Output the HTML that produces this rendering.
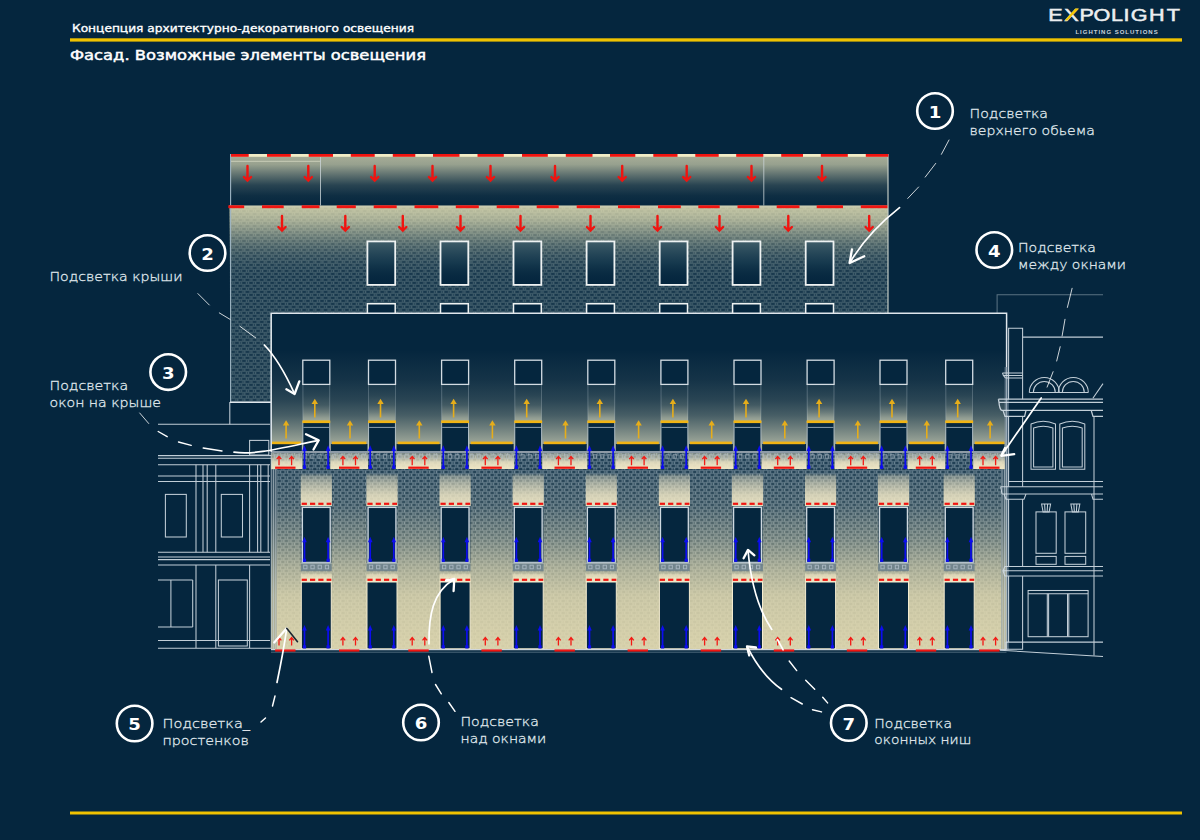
<!DOCTYPE html>
<html lang="ru"><head><meta charset="utf-8"><title>Фасад. Возможные элементы освещения</title>
<style>html,body{margin:0;padding:0;background:#05263e;}svg{display:block}text{font-family:"Liberation Sans","DejaVu Sans",sans-serif}.dj{font-family:"DejaVu Sans","Liberation Sans",sans-serif}.djl{font-family:"DejaVu Sans Light","DejaVu Sans","Liberation Sans",sans-serif;font-weight:200}</style></head><body>
<svg width="1200" height="840" viewBox="0 0 1200 840">
<defs>
<pattern id="brick" patternUnits="userSpaceOnUse" x="231" y="206.5" width="7.1" height="6"><rect x="0" y="0" width="7.1" height="6" fill="#7d95a3"/><rect x="0.3" y="0.55" width="3.6" height="1.9" fill="#05263e"/><rect x="4.95" y="0.7" width="1.15" height="1.6" fill="#05263e"/><rect x="3.85" y="3.55" width="3.25" height="1.9" fill="#05263e"/><rect x="0" y="3.55" width="0.35" height="1.9" fill="#05263e"/><rect x="1.4" y="3.7" width="1.15" height="1.6" fill="#05263e"/></pattern>
<pattern id="brickU" patternUnits="userSpaceOnUse" x="231" y="206.5" width="7.1" height="6"><rect x="0" y="0" width="7.1" height="6" fill="#55707b"/><rect x="0.3" y="0.6" width="3.9" height="1.7" fill="#05263e"/><rect x="5.2" y="0.9" width="1.0" height="1.1" fill="#05263e"/><rect x="3.85" y="3.6" width="3.25" height="1.7" fill="#05263e"/><rect x="0" y="3.6" width="0.65" height="1.7" fill="#05263e"/><rect x="1.65" y="3.9" width="1.0" height="1.1" fill="#05263e"/></pattern>
<linearGradient id="gPar" gradientUnits="userSpaceOnUse" x1="0" y1="154" x2="0" y2="206"><stop offset="0" stop-color="#f1ecc0" stop-opacity="0.7"/><stop offset="0.2" stop-color="#f1ecc0" stop-opacity="0.62"/><stop offset="0.4" stop-color="#f1ecc0" stop-opacity="0.38"/><stop offset="0.6" stop-color="#f1ecc0" stop-opacity="0.15"/><stop offset="0.8" stop-color="#f1ecc0" stop-opacity="0.04"/><stop offset="1" stop-color="#f1ecc0" stop-opacity="0"/></linearGradient>
<linearGradient id="gUp" gradientUnits="userSpaceOnUse" x1="0" y1="206" x2="0" y2="313"><stop offset="0" stop-color="#eee8b8" stop-opacity="0.78"/><stop offset="0.02" stop-color="#eee8b8" stop-opacity="0.76"/><stop offset="0.13" stop-color="#eee8b8" stop-opacity="0.64"/><stop offset="0.205" stop-color="#eee8b8" stop-opacity="0.5"/><stop offset="0.28" stop-color="#eee8b8" stop-opacity="0.36"/><stop offset="0.365" stop-color="#eee8b8" stop-opacity="0.22"/><stop offset="0.46" stop-color="#eee8b8" stop-opacity="0.1"/><stop offset="0.55" stop-color="#eee8b8" stop-opacity="0.035"/><stop offset="0.65" stop-color="#eee8b8" stop-opacity="0"/></linearGradient>
<linearGradient id="gWin" gradientUnits="userSpaceOnUse" x1="0" y1="241" x2="0" y2="285"><stop offset="0" stop-color="#48656f" stop-opacity="0.9"/><stop offset="0.5" stop-color="#214558" stop-opacity="0.6"/><stop offset="1" stop-color="#05263e" stop-opacity="0"/></linearGradient>
<linearGradient id="gRoof" gradientUnits="userSpaceOnUse" x1="0" y1="313" x2="0" y2="452"><stop offset="0" stop-color="#e8e6c6" stop-opacity="0"/><stop offset="0.266" stop-color="#e8e6c6" stop-opacity="0"/><stop offset="0.482" stop-color="#e8e6c6" stop-opacity="0.07"/><stop offset="0.626" stop-color="#e8e6c6" stop-opacity="0.16"/><stop offset="0.734" stop-color="#e8e6c6" stop-opacity="0.287"/><stop offset="0.827" stop-color="#e8e6c6" stop-opacity="0.46"/><stop offset="0.921" stop-color="#e8e6c6" stop-opacity="0.64"/><stop offset="1" stop-color="#e8e6c6" stop-opacity="0.66"/></linearGradient>
<linearGradient id="gDorm" gradientUnits="userSpaceOnUse" x1="0" y1="384" x2="0" y2="421"><stop offset="0" stop-color="#e8e6c6" stop-opacity="0.09"/><stop offset="0.3" stop-color="#e8e6c6" stop-opacity="0.16"/><stop offset="0.57" stop-color="#e8e6c6" stop-opacity="0.27"/><stop offset="0.76" stop-color="#e8e6c6" stop-opacity="0.44"/><stop offset="0.92" stop-color="#e8e6c6" stop-opacity="0.62"/><stop offset="1" stop-color="#e8e6c6" stop-opacity="0.68"/></linearGradient>
<linearGradient id="gWall" gradientUnits="userSpaceOnUse" x1="0" y1="469" x2="0" y2="649"><stop offset="0" stop-color="#e8deb2" stop-opacity="0.02"/><stop offset="0.2" stop-color="#e8deb2" stop-opacity="0.11"/><stop offset="0.4" stop-color="#e8deb2" stop-opacity="0.38"/><stop offset="0.55" stop-color="#e8deb2" stop-opacity="0.64"/><stop offset="0.7" stop-color="#e8deb2" stop-opacity="0.82"/><stop offset="1" stop-color="#e8deb2" stop-opacity="0.9"/></linearGradient>
<linearGradient id="gLit2" gradientUnits="userSpaceOnUse" x1="0" y1="473" x2="0" y2="506"><stop offset="0" stop-color="#f3e9c6" stop-opacity="0"/><stop offset="0.1" stop-color="#f3e9c6" stop-opacity="0.35"/><stop offset="0.3" stop-color="#f3e9c6" stop-opacity="0.55"/><stop offset="0.65" stop-color="#f3e9c6" stop-opacity="0.8"/><stop offset="1" stop-color="#f3e9c6" stop-opacity="0.92"/></linearGradient>
<linearGradient id="gLit1" gradientUnits="userSpaceOnUse" x1="0" y1="573.5" x2="0" y2="582"><stop offset="0" stop-color="#f3e9c6" stop-opacity="0.45"/><stop offset="0.5" stop-color="#f3e9c6" stop-opacity="0.8"/><stop offset="1" stop-color="#f3e9c6" stop-opacity="0.92"/></linearGradient>
<linearGradient id="gStrip" gradientUnits="userSpaceOnUse" x1="0" y1="453" x2="0" y2="469"><stop offset="0" stop-color="#f3e9c6" stop-opacity="0.4"/><stop offset="0.3" stop-color="#f3e9c6" stop-opacity="0.6"/><stop offset="0.6" stop-color="#f3e9c6" stop-opacity="0.88"/><stop offset="1" stop-color="#f3e9c6" stop-opacity="0.97"/></linearGradient>
</defs>
<rect x="0.00" y="0.00" width="1200.00" height="840.00" fill="#05263e" />
<rect x="70.00" y="38.30" width="1112.00" height="3.30" fill="#f0c200" />
<rect x="70.00" y="811.50" width="1112.00" height="3.00" fill="#f0c200" />
<text x="72" y="32" font-size="10.8" class="dj" stroke="#ffffff" stroke-width="0.35" fill="#ffffff" textLength="342" lengthAdjust="spacingAndGlyphs">Концепция архитектурно-декоративного освещения</text>
<text x="70" y="60" font-size="13.2" class="dj" stroke="#ffffff" stroke-width="0.45" fill="#ffffff" textLength="356" lengthAdjust="spacingAndGlyphs">Фасад. Возможные элементы освещения</text>
<g id="logo">
<text transform="scale(1.27 1)" x="825.46 838.03 849.95 861.01 874.80 884.67 890.32 904.82 918.78" y="20.6" font-size="17" fill="#eceef0" stroke="#eceef0" stroke-width="0.5">EXPOLIGHT</text>
<path d="M1075.2 8.4 L1078.9 8.4 L1067.3 20.6 L1064.5 20.6 Z" fill="#f2c500"/>
<text x="1075.4" y="33.8" font-size="6" font-weight="700" fill="#c9d3dc" textLength="82.3" lengthAdjust="spacing">LIGHTING SOLUTIONS</text>
</g>
<g id="left-building" stroke="#d3dde5" stroke-width="1.05" fill="none" opacity="0.92">
<path d="M229.8 402 L229.8 424.2"/>
<path d="M158 424.2 L270 424.2"/>
<rect x="249.6" y="440.4" width="19.2" height="14.6"/>
<path d="M158 455.6 L276 455.6"/>
<path d="M158 458.2 L276 458.2"/>
<path d="M158 464.8 L270 464.8"/>
<path d="M158 476 L270 476"/>
<path d="M158 481.5 L270 481.5"/>
<path d="M196 464.8 L196 552.2"/>
<path d="M203 464.8 L203 552.2"/>
<path d="M207.2 464.8 L207.2 552.2"/>
<path d="M215.8 464.8 L215.8 552.2"/>
<path d="M249.6 464.8 L249.6 552.2"/>
<path d="M257.6 464.8 L257.6 552.2"/>
<path d="M260.8 464.8 L260.8 552.2"/>
<path d="M268.2 464.8 L268.2 552.2"/>
<rect x="165.4" y="494.4" width="20.9" height="42.6"/>
<rect x="221.3" y="494.4" width="21.2" height="42.6"/>
<path d="M158 552.2 L270 552.2"/>
<path d="M158 557 L270 557"/>
<path d="M158 559.6 L270 559.6"/>
<path d="M158 565 L270 565"/>
<path d="M196 565 L196 648"/>
<path d="M215.8 565 L215.8 648"/>
<path d="M249.6 565 L249.6 648"/>
<path d="M158 580 L192.7 580"/>
<path d="M192.7 580 L192.7 627"/>
<path d="M158 627 L192.7 627"/>
<path d="M170.9 580 L170.9 627"/>
<rect x="218.4" y="580" width="28.9" height="66.0"/>
<path d="M158 640.5 L270 640.5"/>
<path d="M158 648.3 L271 648.3"/>
</g>
<g id="upper-building">
<rect x="231.00" y="154.00" width="657.00" height="52.00" fill="url(#gPar)" />
<path d="M229.5 206 H888 V313 H271 V402 H230.5 Z" fill="url(#brickU)" opacity="0.8"/>
<path d="M229.5 206 H888 V313 H271 V402 H230.5 Z" fill="url(#gUp)"/>
<rect x="231.00" y="154.00" width="657.00" height="2.80" fill="#f1ecc6" />
<rect x="229.00" y="205.40" width="659.00" height="2.20" fill="#c9cbb0" opacity="0.9" />
<line x1="230.60" y1="154.00" x2="230.60" y2="402.00" stroke="#9fb6c4" stroke-width="1.1" />
<line x1="888.00" y1="154.00" x2="888.00" y2="313.00" stroke="#c3ccc4" stroke-width="1.2" />
<line x1="231.00" y1="161.30" x2="320.50" y2="161.30" stroke="#d5d8c2" stroke-width="1" opacity="0.8" />
<line x1="320.50" y1="155.00" x2="320.50" y2="205.50" stroke="#c9d3d6" stroke-width="1" opacity="0.8" />
<line x1="763.80" y1="155.00" x2="763.80" y2="205.50" stroke="#c9d3d6" stroke-width="1" opacity="0.8" />
<line x1="230.00" y1="402.20" x2="271.00" y2="402.20" stroke="#dfe6ec" stroke-width="1.6" />
<rect x="367.40" y="241.40" width="27.80" height="43.50" fill="#05263e" />
<rect x="367.40" y="241.40" width="27.80" height="43.50" fill="url(#gWin)" stroke="#eef2f2" stroke-width="1.8" />
<path d="M367.4 313 V303.8 H395.2 V313" fill="#05263e" stroke="#eef2f2" stroke-width="1.5"/>
<rect x="440.50" y="241.40" width="27.80" height="43.50" fill="#05263e" />
<rect x="440.50" y="241.40" width="27.80" height="43.50" fill="url(#gWin)" stroke="#eef2f2" stroke-width="1.8" />
<path d="M440.5 313 V303.8 H468.3 V313" fill="#05263e" stroke="#eef2f2" stroke-width="1.5"/>
<rect x="513.50" y="241.40" width="27.80" height="43.50" fill="#05263e" />
<rect x="513.50" y="241.40" width="27.80" height="43.50" fill="url(#gWin)" stroke="#eef2f2" stroke-width="1.8" />
<path d="M513.5 313 V303.8 H541.3 V313" fill="#05263e" stroke="#eef2f2" stroke-width="1.5"/>
<rect x="586.60" y="241.40" width="27.80" height="43.50" fill="#05263e" />
<rect x="586.60" y="241.40" width="27.80" height="43.50" fill="url(#gWin)" stroke="#eef2f2" stroke-width="1.8" />
<path d="M586.6 313 V303.8 H614.4 V313" fill="#05263e" stroke="#eef2f2" stroke-width="1.5"/>
<rect x="659.70" y="241.40" width="27.80" height="43.50" fill="#05263e" />
<rect x="659.70" y="241.40" width="27.80" height="43.50" fill="url(#gWin)" stroke="#eef2f2" stroke-width="1.8" />
<path d="M659.7 313 V303.8 H687.5 V313" fill="#05263e" stroke="#eef2f2" stroke-width="1.5"/>
<rect x="732.60" y="241.40" width="27.80" height="43.50" fill="#05263e" />
<rect x="732.60" y="241.40" width="27.80" height="43.50" fill="url(#gWin)" stroke="#eef2f2" stroke-width="1.8" />
<path d="M732.6 313 V303.8 H760.4 V313" fill="#05263e" stroke="#eef2f2" stroke-width="1.5"/>
<rect x="805.70" y="241.40" width="27.80" height="43.50" fill="#05263e" />
<rect x="805.70" y="241.40" width="27.80" height="43.50" fill="url(#gWin)" stroke="#eef2f2" stroke-width="1.8" />
<path d="M805.7 313 V303.8 H833.5 V313" fill="#05263e" stroke="#eef2f2" stroke-width="1.5"/>
<rect x="231.00" y="154.00" width="17.70" height="2.80" fill="#f01410" />
<rect x="267.00" y="154.00" width="23.80" height="2.80" fill="#f01410" />
<rect x="308.70" y="154.00" width="24.30" height="2.80" fill="#f01410" />
<rect x="350.80" y="154.00" width="23.90" height="2.80" fill="#f01410" />
<rect x="392.80" y="154.00" width="22.50" height="2.80" fill="#f01410" />
<rect x="433.00" y="154.00" width="26.50" height="2.80" fill="#f01410" />
<rect x="477.50" y="154.00" width="26.30" height="2.80" fill="#f01410" />
<rect x="522.00" y="154.00" width="25.80" height="2.80" fill="#f01410" />
<rect x="565.80" y="154.00" width="26.70" height="2.80" fill="#f01410" />
<rect x="610.00" y="154.00" width="25.30" height="2.80" fill="#f01410" />
<rect x="653.30" y="154.00" width="24.20" height="2.80" fill="#f01410" />
<rect x="695.30" y="154.00" width="23.40" height="2.80" fill="#f01410" />
<rect x="736.20" y="154.00" width="27.10" height="2.80" fill="#f01410" />
<rect x="781.20" y="154.00" width="21.80" height="2.80" fill="#f01410" />
<rect x="820.80" y="154.00" width="27.00" height="2.80" fill="#f01410" />
<rect x="865.80" y="154.00" width="22.50" height="2.80" fill="#f01410" />
<rect x="228.30" y="205.30" width="15.90" height="2.90" fill="#f01410" />
<rect x="262.00" y="205.30" width="21.70" height="2.90" fill="#f01410" />
<rect x="301.70" y="205.30" width="17.80" height="2.90" fill="#f01410" />
<rect x="336.70" y="205.30" width="19.10" height="2.90" fill="#f01410" />
<rect x="373.70" y="205.30" width="23.00" height="2.90" fill="#f01410" />
<rect x="414.50" y="205.30" width="23.80" height="2.90" fill="#f01410" />
<rect x="455.80" y="205.30" width="23.00" height="2.90" fill="#f01410" />
<rect x="496.70" y="205.30" width="22.50" height="2.90" fill="#f01410" />
<rect x="536.70" y="205.30" width="22.00" height="2.90" fill="#f01410" />
<rect x="576.70" y="205.30" width="23.30" height="2.90" fill="#f01410" />
<rect x="618.00" y="205.30" width="22.00" height="2.90" fill="#f01410" />
<rect x="658.00" y="205.30" width="22.80" height="2.90" fill="#f01410" />
<rect x="698.30" y="205.30" width="21.40" height="2.90" fill="#f01410" />
<rect x="737.50" y="205.30" width="21.70" height="2.90" fill="#f01410" />
<rect x="776.70" y="205.30" width="22.80" height="2.90" fill="#f01410" />
<rect x="816.70" y="205.30" width="26.30" height="2.90" fill="#f01410" />
<rect x="860.80" y="205.30" width="26.70" height="2.90" fill="#f01410" />
<path d="M247.5 166.0 V180.2 M243.9 177.0 L247.5 180.6 L251.1 177.0" stroke="#f01410" stroke-width="2.4" fill="none" stroke-linecap="round" stroke-linejoin="miter"/>
<path d="M308.3 166.0 V180.2 M304.7 177.0 L308.3 180.6 L311.9 177.0" stroke="#f01410" stroke-width="2.4" fill="none" stroke-linecap="round" stroke-linejoin="miter"/>
<path d="M374.7 166.0 V180.2 M371.1 177.0 L374.7 180.6 L378.3 177.0" stroke="#f01410" stroke-width="2.4" fill="none" stroke-linecap="round" stroke-linejoin="miter"/>
<path d="M432.5 166.0 V180.2 M428.9 177.0 L432.5 180.6 L436.1 177.0" stroke="#f01410" stroke-width="2.4" fill="none" stroke-linecap="round" stroke-linejoin="miter"/>
<path d="M490.5 166.0 V180.2 M486.9 177.0 L490.5 180.6 L494.1 177.0" stroke="#f01410" stroke-width="2.4" fill="none" stroke-linecap="round" stroke-linejoin="miter"/>
<path d="M555.0 166.0 V180.2 M551.4 177.0 L555.0 180.6 L558.6 177.0" stroke="#f01410" stroke-width="2.4" fill="none" stroke-linecap="round" stroke-linejoin="miter"/>
<path d="M622.2 166.0 V180.2 M618.6 177.0 L622.2 180.6 L625.8 177.0" stroke="#f01410" stroke-width="2.4" fill="none" stroke-linecap="round" stroke-linejoin="miter"/>
<path d="M686.7 166.0 V180.2 M683.1 177.0 L686.7 180.6 L690.3 177.0" stroke="#f01410" stroke-width="2.4" fill="none" stroke-linecap="round" stroke-linejoin="miter"/>
<path d="M751.5 166.0 V180.2 M747.9 177.0 L751.5 180.6 L755.1 177.0" stroke="#f01410" stroke-width="2.4" fill="none" stroke-linecap="round" stroke-linejoin="miter"/>
<path d="M822.0 166.0 V180.2 M818.4 177.0 L822.0 180.6 L825.6 177.0" stroke="#f01410" stroke-width="2.4" fill="none" stroke-linecap="round" stroke-linejoin="miter"/>
<path d="M282.0 216.0 V230.2 M278.4 227.0 L282.0 230.6 L285.6 227.0" stroke="#f01410" stroke-width="2.4" fill="none" stroke-linecap="round" stroke-linejoin="miter"/>
<path d="M345.3 216.0 V230.2 M341.7 227.0 L345.3 230.6 L348.9 227.0" stroke="#f01410" stroke-width="2.4" fill="none" stroke-linecap="round" stroke-linejoin="miter"/>
<path d="M402.8 216.0 V230.2 M399.2 227.0 L402.8 230.6 L406.4 227.0" stroke="#f01410" stroke-width="2.4" fill="none" stroke-linecap="round" stroke-linejoin="miter"/>
<path d="M460.5 216.0 V230.2 M456.9 227.0 L460.5 230.6 L464.1 227.0" stroke="#f01410" stroke-width="2.4" fill="none" stroke-linecap="round" stroke-linejoin="miter"/>
<path d="M520.5 216.0 V230.2 M516.9 227.0 L520.5 230.6 L524.1 227.0" stroke="#f01410" stroke-width="2.4" fill="none" stroke-linecap="round" stroke-linejoin="miter"/>
<path d="M590.5 216.0 V230.2 M586.9 227.0 L590.5 230.6 L594.1 227.0" stroke="#f01410" stroke-width="2.4" fill="none" stroke-linecap="round" stroke-linejoin="miter"/>
<path d="M657.5 216.0 V230.2 M653.9 227.0 L657.5 230.6 L661.1 227.0" stroke="#f01410" stroke-width="2.4" fill="none" stroke-linecap="round" stroke-linejoin="miter"/>
<path d="M719.5 216.0 V230.2 M715.9 227.0 L719.5 230.6 L723.1 227.0" stroke="#f01410" stroke-width="2.4" fill="none" stroke-linecap="round" stroke-linejoin="miter"/>
<path d="M788.3 216.0 V230.2 M784.7 227.0 L788.3 230.6 L791.9 227.0" stroke="#f01410" stroke-width="2.4" fill="none" stroke-linecap="round" stroke-linejoin="miter"/>
<path d="M869.2 216.0 V230.2 M865.6 227.0 L869.2 230.6 L872.8 227.0" stroke="#f01410" stroke-width="2.4" fill="none" stroke-linecap="round" stroke-linejoin="miter"/>
</g>
<g id="lower-building">
<rect x="271.00" y="313.00" width="735.50" height="139.00" fill="#05263e" />
<rect x="271.50" y="313.00" width="734.50" height="139.00" fill="url(#gRoof)" />
<rect x="302.70" y="384.50" width="27.20" height="36.50" fill="#05263e" />
<rect x="302.70" y="384.50" width="27.20" height="36.50" fill="url(#gDorm)" />
<line x1="302.90" y1="384.50" x2="302.90" y2="421.00" stroke="#b9c6cf" stroke-width="0.8" opacity="0.4" />
<line x1="329.70" y1="384.50" x2="329.70" y2="421.00" stroke="#b9c6cf" stroke-width="0.8" opacity="0.4" />
<line x1="303.00" y1="421.00" x2="303.00" y2="452.00" stroke="#b9c6cf" stroke-width="1.2" opacity="0.85" />
<line x1="329.60" y1="421.00" x2="329.60" y2="452.00" stroke="#b9c6cf" stroke-width="1.2" opacity="0.85" />
<rect x="302.80" y="360.20" width="27.00" height="24.20" fill="#05263e" stroke="#d3dce3" stroke-width="1.3" />
<rect x="303.40" y="423.00" width="25.80" height="29.00" fill="#05263e" />
<line x1="303.40" y1="427.40" x2="329.20" y2="427.40" stroke="#8fa2b0" stroke-width="1" />
<rect x="302.40" y="420.40" width="27.80" height="2.70" fill="#f0b414" />
<rect x="368.40" y="384.50" width="27.20" height="36.50" fill="#05263e" />
<rect x="368.40" y="384.50" width="27.20" height="36.50" fill="url(#gDorm)" />
<line x1="368.60" y1="384.50" x2="368.60" y2="421.00" stroke="#b9c6cf" stroke-width="0.8" opacity="0.4" />
<line x1="395.40" y1="384.50" x2="395.40" y2="421.00" stroke="#b9c6cf" stroke-width="0.8" opacity="0.4" />
<line x1="368.70" y1="421.00" x2="368.70" y2="452.00" stroke="#b9c6cf" stroke-width="1.2" opacity="0.85" />
<line x1="395.30" y1="421.00" x2="395.30" y2="452.00" stroke="#b9c6cf" stroke-width="1.2" opacity="0.85" />
<rect x="368.50" y="360.20" width="27.00" height="24.20" fill="#05263e" stroke="#d3dce3" stroke-width="1.3" />
<rect x="369.10" y="423.00" width="25.80" height="29.00" fill="#05263e" />
<line x1="369.10" y1="427.40" x2="394.90" y2="427.40" stroke="#8fa2b0" stroke-width="1" />
<rect x="368.10" y="420.40" width="27.80" height="2.70" fill="#f0b414" />
<rect x="441.50" y="384.50" width="27.20" height="36.50" fill="#05263e" />
<rect x="441.50" y="384.50" width="27.20" height="36.50" fill="url(#gDorm)" />
<line x1="441.70" y1="384.50" x2="441.70" y2="421.00" stroke="#b9c6cf" stroke-width="0.8" opacity="0.4" />
<line x1="468.50" y1="384.50" x2="468.50" y2="421.00" stroke="#b9c6cf" stroke-width="0.8" opacity="0.4" />
<line x1="441.80" y1="421.00" x2="441.80" y2="452.00" stroke="#b9c6cf" stroke-width="1.2" opacity="0.85" />
<line x1="468.40" y1="421.00" x2="468.40" y2="452.00" stroke="#b9c6cf" stroke-width="1.2" opacity="0.85" />
<rect x="441.60" y="360.20" width="27.00" height="24.20" fill="#05263e" stroke="#d3dce3" stroke-width="1.3" />
<rect x="442.20" y="423.00" width="25.80" height="29.00" fill="#05263e" />
<line x1="442.20" y1="427.40" x2="468.00" y2="427.40" stroke="#8fa2b0" stroke-width="1" />
<rect x="441.20" y="420.40" width="27.80" height="2.70" fill="#f0b414" />
<rect x="514.60" y="384.50" width="27.20" height="36.50" fill="#05263e" />
<rect x="514.60" y="384.50" width="27.20" height="36.50" fill="url(#gDorm)" />
<line x1="514.80" y1="384.50" x2="514.80" y2="421.00" stroke="#b9c6cf" stroke-width="0.8" opacity="0.4" />
<line x1="541.60" y1="384.50" x2="541.60" y2="421.00" stroke="#b9c6cf" stroke-width="0.8" opacity="0.4" />
<line x1="514.90" y1="421.00" x2="514.90" y2="452.00" stroke="#b9c6cf" stroke-width="1.2" opacity="0.85" />
<line x1="541.50" y1="421.00" x2="541.50" y2="452.00" stroke="#b9c6cf" stroke-width="1.2" opacity="0.85" />
<rect x="514.70" y="360.20" width="27.00" height="24.20" fill="#05263e" stroke="#d3dce3" stroke-width="1.3" />
<rect x="515.30" y="423.00" width="25.80" height="29.00" fill="#05263e" />
<line x1="515.30" y1="427.40" x2="541.10" y2="427.40" stroke="#8fa2b0" stroke-width="1" />
<rect x="514.30" y="420.40" width="27.80" height="2.70" fill="#f0b414" />
<rect x="587.70" y="384.50" width="27.20" height="36.50" fill="#05263e" />
<rect x="587.70" y="384.50" width="27.20" height="36.50" fill="url(#gDorm)" />
<line x1="587.90" y1="384.50" x2="587.90" y2="421.00" stroke="#b9c6cf" stroke-width="0.8" opacity="0.4" />
<line x1="614.70" y1="384.50" x2="614.70" y2="421.00" stroke="#b9c6cf" stroke-width="0.8" opacity="0.4" />
<line x1="588.00" y1="421.00" x2="588.00" y2="452.00" stroke="#b9c6cf" stroke-width="1.2" opacity="0.85" />
<line x1="614.60" y1="421.00" x2="614.60" y2="452.00" stroke="#b9c6cf" stroke-width="1.2" opacity="0.85" />
<rect x="587.80" y="360.20" width="27.00" height="24.20" fill="#05263e" stroke="#d3dce3" stroke-width="1.3" />
<rect x="588.40" y="423.00" width="25.80" height="29.00" fill="#05263e" />
<line x1="588.40" y1="427.40" x2="614.20" y2="427.40" stroke="#8fa2b0" stroke-width="1" />
<rect x="587.40" y="420.40" width="27.80" height="2.70" fill="#f0b414" />
<rect x="660.80" y="384.50" width="27.20" height="36.50" fill="#05263e" />
<rect x="660.80" y="384.50" width="27.20" height="36.50" fill="url(#gDorm)" />
<line x1="661.00" y1="384.50" x2="661.00" y2="421.00" stroke="#b9c6cf" stroke-width="0.8" opacity="0.4" />
<line x1="687.80" y1="384.50" x2="687.80" y2="421.00" stroke="#b9c6cf" stroke-width="0.8" opacity="0.4" />
<line x1="661.10" y1="421.00" x2="661.10" y2="452.00" stroke="#b9c6cf" stroke-width="1.2" opacity="0.85" />
<line x1="687.70" y1="421.00" x2="687.70" y2="452.00" stroke="#b9c6cf" stroke-width="1.2" opacity="0.85" />
<rect x="660.90" y="360.20" width="27.00" height="24.20" fill="#05263e" stroke="#d3dce3" stroke-width="1.3" />
<rect x="661.50" y="423.00" width="25.80" height="29.00" fill="#05263e" />
<line x1="661.50" y1="427.40" x2="687.30" y2="427.40" stroke="#8fa2b0" stroke-width="1" />
<rect x="660.50" y="420.40" width="27.80" height="2.70" fill="#f0b414" />
<rect x="733.90" y="384.50" width="27.20" height="36.50" fill="#05263e" />
<rect x="733.90" y="384.50" width="27.20" height="36.50" fill="url(#gDorm)" />
<line x1="734.10" y1="384.50" x2="734.10" y2="421.00" stroke="#b9c6cf" stroke-width="0.8" opacity="0.4" />
<line x1="760.90" y1="384.50" x2="760.90" y2="421.00" stroke="#b9c6cf" stroke-width="0.8" opacity="0.4" />
<line x1="734.20" y1="421.00" x2="734.20" y2="452.00" stroke="#b9c6cf" stroke-width="1.2" opacity="0.85" />
<line x1="760.80" y1="421.00" x2="760.80" y2="452.00" stroke="#b9c6cf" stroke-width="1.2" opacity="0.85" />
<rect x="734.00" y="360.20" width="27.00" height="24.20" fill="#05263e" stroke="#d3dce3" stroke-width="1.3" />
<rect x="734.60" y="423.00" width="25.80" height="29.00" fill="#05263e" />
<line x1="734.60" y1="427.40" x2="760.40" y2="427.40" stroke="#8fa2b0" stroke-width="1" />
<rect x="733.60" y="420.40" width="27.80" height="2.70" fill="#f0b414" />
<rect x="807.00" y="384.50" width="27.20" height="36.50" fill="#05263e" />
<rect x="807.00" y="384.50" width="27.20" height="36.50" fill="url(#gDorm)" />
<line x1="807.20" y1="384.50" x2="807.20" y2="421.00" stroke="#b9c6cf" stroke-width="0.8" opacity="0.4" />
<line x1="834.00" y1="384.50" x2="834.00" y2="421.00" stroke="#b9c6cf" stroke-width="0.8" opacity="0.4" />
<line x1="807.30" y1="421.00" x2="807.30" y2="452.00" stroke="#b9c6cf" stroke-width="1.2" opacity="0.85" />
<line x1="833.90" y1="421.00" x2="833.90" y2="452.00" stroke="#b9c6cf" stroke-width="1.2" opacity="0.85" />
<rect x="807.10" y="360.20" width="27.00" height="24.20" fill="#05263e" stroke="#d3dce3" stroke-width="1.3" />
<rect x="807.70" y="423.00" width="25.80" height="29.00" fill="#05263e" />
<line x1="807.70" y1="427.40" x2="833.50" y2="427.40" stroke="#8fa2b0" stroke-width="1" />
<rect x="806.70" y="420.40" width="27.80" height="2.70" fill="#f0b414" />
<rect x="879.90" y="384.50" width="27.20" height="36.50" fill="#05263e" />
<rect x="879.90" y="384.50" width="27.20" height="36.50" fill="url(#gDorm)" />
<line x1="880.10" y1="384.50" x2="880.10" y2="421.00" stroke="#b9c6cf" stroke-width="0.8" opacity="0.4" />
<line x1="906.90" y1="384.50" x2="906.90" y2="421.00" stroke="#b9c6cf" stroke-width="0.8" opacity="0.4" />
<line x1="880.20" y1="421.00" x2="880.20" y2="452.00" stroke="#b9c6cf" stroke-width="1.2" opacity="0.85" />
<line x1="906.80" y1="421.00" x2="906.80" y2="452.00" stroke="#b9c6cf" stroke-width="1.2" opacity="0.85" />
<rect x="880.00" y="360.20" width="27.00" height="24.20" fill="#05263e" stroke="#d3dce3" stroke-width="1.3" />
<rect x="880.60" y="423.00" width="25.80" height="29.00" fill="#05263e" />
<line x1="880.60" y1="427.40" x2="906.40" y2="427.40" stroke="#8fa2b0" stroke-width="1" />
<rect x="879.60" y="420.40" width="27.80" height="2.70" fill="#f0b414" />
<rect x="945.60" y="384.50" width="27.20" height="36.50" fill="#05263e" />
<rect x="945.60" y="384.50" width="27.20" height="36.50" fill="url(#gDorm)" />
<line x1="945.80" y1="384.50" x2="945.80" y2="421.00" stroke="#b9c6cf" stroke-width="0.8" opacity="0.4" />
<line x1="972.60" y1="384.50" x2="972.60" y2="421.00" stroke="#b9c6cf" stroke-width="0.8" opacity="0.4" />
<line x1="945.90" y1="421.00" x2="945.90" y2="452.00" stroke="#b9c6cf" stroke-width="1.2" opacity="0.85" />
<line x1="972.50" y1="421.00" x2="972.50" y2="452.00" stroke="#b9c6cf" stroke-width="1.2" opacity="0.85" />
<rect x="945.70" y="360.20" width="27.00" height="24.20" fill="#05263e" stroke="#d3dce3" stroke-width="1.3" />
<rect x="946.30" y="423.00" width="25.80" height="29.00" fill="#05263e" />
<line x1="946.30" y1="427.40" x2="972.10" y2="427.40" stroke="#8fa2b0" stroke-width="1" />
<rect x="945.30" y="420.40" width="27.80" height="2.70" fill="#f0b414" />
<rect x="271.50" y="444.00" width="30.30" height="8.00" fill="#05263e" />
<rect x="271.50" y="441.60" width="29.30" height="2.60" fill="#f0b414" />
<rect x="330.90" y="444.00" width="36.50" height="8.00" fill="#05263e" />
<rect x="331.90" y="441.60" width="34.50" height="2.60" fill="#f0b414" />
<rect x="396.60" y="444.00" width="43.90" height="8.00" fill="#05263e" />
<rect x="397.60" y="441.60" width="41.90" height="2.60" fill="#f0b414" />
<rect x="469.70" y="444.00" width="43.90" height="8.00" fill="#05263e" />
<rect x="470.70" y="441.60" width="41.90" height="2.60" fill="#f0b414" />
<rect x="542.80" y="444.00" width="43.90" height="8.00" fill="#05263e" />
<rect x="543.80" y="441.60" width="41.90" height="2.60" fill="#f0b414" />
<rect x="615.90" y="444.00" width="43.90" height="8.00" fill="#05263e" />
<rect x="616.90" y="441.60" width="41.90" height="2.60" fill="#f0b414" />
<rect x="689.00" y="444.00" width="43.90" height="8.00" fill="#05263e" />
<rect x="690.00" y="441.60" width="41.90" height="2.60" fill="#f0b414" />
<rect x="762.10" y="444.00" width="43.90" height="8.00" fill="#05263e" />
<rect x="763.10" y="441.60" width="41.90" height="2.60" fill="#f0b414" />
<rect x="835.20" y="444.00" width="43.70" height="8.00" fill="#05263e" />
<rect x="836.20" y="441.60" width="41.70" height="2.60" fill="#f0b414" />
<rect x="908.10" y="444.00" width="36.50" height="8.00" fill="#05263e" />
<rect x="909.10" y="441.60" width="34.50" height="2.60" fill="#f0b414" />
<rect x="973.80" y="444.00" width="30.70" height="8.00" fill="#05263e" />
<rect x="974.80" y="441.60" width="29.70" height="2.60" fill="#f0b414" />
<rect x="271.50" y="452.00" width="733.00" height="17.30" fill="#05263e" />
<rect x="271.50" y="452.00" width="733.00" height="17.30" fill="url(#brick)" opacity="0.85" />
<rect x="270.90" y="453.00" width="31.50" height="16.30" fill="url(#gStrip)" />
<rect x="330.30" y="453.00" width="37.70" height="16.30" fill="url(#gStrip)" />
<rect x="396.00" y="453.00" width="45.10" height="16.30" fill="url(#gStrip)" />
<rect x="469.10" y="453.00" width="45.10" height="16.30" fill="url(#gStrip)" />
<rect x="542.20" y="453.00" width="45.10" height="16.30" fill="url(#gStrip)" />
<rect x="615.30" y="453.00" width="45.10" height="16.30" fill="url(#gStrip)" />
<rect x="688.40" y="453.00" width="45.10" height="16.30" fill="url(#gStrip)" />
<rect x="761.50" y="453.00" width="45.10" height="16.30" fill="url(#gStrip)" />
<rect x="834.60" y="453.00" width="44.90" height="16.30" fill="url(#gStrip)" />
<rect x="907.50" y="453.00" width="37.70" height="16.30" fill="url(#gStrip)" />
<rect x="973.20" y="453.00" width="31.90" height="16.30" fill="url(#gStrip)" />
<rect x="274.50" y="454.40" width="3.20" height="3.80" fill="none" stroke="#b5c0c9" stroke-width="0.9" opacity="0.55" />
<rect x="281.75" y="454.40" width="3.20" height="3.80" fill="none" stroke="#b5c0c9" stroke-width="0.9" opacity="0.55" />
<rect x="289.00" y="454.40" width="3.20" height="3.80" fill="none" stroke="#b5c0c9" stroke-width="0.9" opacity="0.55" />
<rect x="296.25" y="454.40" width="3.20" height="3.80" fill="none" stroke="#b5c0c9" stroke-width="0.9" opacity="0.55" />
<rect x="303.50" y="454.40" width="3.20" height="3.80" fill="none" stroke="#b5c0c9" stroke-width="0.9" opacity="0.55" />
<rect x="310.75" y="454.40" width="3.20" height="3.80" fill="none" stroke="#b5c0c9" stroke-width="0.9" opacity="0.55" />
<rect x="318.00" y="454.40" width="3.20" height="3.80" fill="none" stroke="#b5c0c9" stroke-width="0.9" opacity="0.55" />
<rect x="325.25" y="454.40" width="3.20" height="3.80" fill="none" stroke="#b5c0c9" stroke-width="0.9" opacity="0.55" />
<rect x="332.50" y="454.40" width="3.20" height="3.80" fill="none" stroke="#b5c0c9" stroke-width="0.9" opacity="0.55" />
<rect x="339.75" y="454.40" width="3.20" height="3.80" fill="none" stroke="#b5c0c9" stroke-width="0.9" opacity="0.55" />
<rect x="347.00" y="454.40" width="3.20" height="3.80" fill="none" stroke="#b5c0c9" stroke-width="0.9" opacity="0.55" />
<rect x="354.25" y="454.40" width="3.20" height="3.80" fill="none" stroke="#b5c0c9" stroke-width="0.9" opacity="0.55" />
<rect x="361.50" y="454.40" width="3.20" height="3.80" fill="none" stroke="#b5c0c9" stroke-width="0.9" opacity="0.55" />
<rect x="368.75" y="454.40" width="3.20" height="3.80" fill="none" stroke="#b5c0c9" stroke-width="0.9" opacity="0.55" />
<rect x="376.00" y="454.40" width="3.20" height="3.80" fill="none" stroke="#b5c0c9" stroke-width="0.9" opacity="0.55" />
<rect x="383.25" y="454.40" width="3.20" height="3.80" fill="none" stroke="#b5c0c9" stroke-width="0.9" opacity="0.55" />
<rect x="390.50" y="454.40" width="3.20" height="3.80" fill="none" stroke="#b5c0c9" stroke-width="0.9" opacity="0.55" />
<rect x="397.75" y="454.40" width="3.20" height="3.80" fill="none" stroke="#b5c0c9" stroke-width="0.9" opacity="0.55" />
<rect x="405.00" y="454.40" width="3.20" height="3.80" fill="none" stroke="#b5c0c9" stroke-width="0.9" opacity="0.55" />
<rect x="412.25" y="454.40" width="3.20" height="3.80" fill="none" stroke="#b5c0c9" stroke-width="0.9" opacity="0.55" />
<rect x="419.50" y="454.40" width="3.20" height="3.80" fill="none" stroke="#b5c0c9" stroke-width="0.9" opacity="0.55" />
<rect x="426.75" y="454.40" width="3.20" height="3.80" fill="none" stroke="#b5c0c9" stroke-width="0.9" opacity="0.55" />
<rect x="434.00" y="454.40" width="3.20" height="3.80" fill="none" stroke="#b5c0c9" stroke-width="0.9" opacity="0.55" />
<rect x="441.25" y="454.40" width="3.20" height="3.80" fill="none" stroke="#b5c0c9" stroke-width="0.9" opacity="0.55" />
<rect x="448.50" y="454.40" width="3.20" height="3.80" fill="none" stroke="#b5c0c9" stroke-width="0.9" opacity="0.55" />
<rect x="455.75" y="454.40" width="3.20" height="3.80" fill="none" stroke="#b5c0c9" stroke-width="0.9" opacity="0.55" />
<rect x="463.00" y="454.40" width="3.20" height="3.80" fill="none" stroke="#b5c0c9" stroke-width="0.9" opacity="0.55" />
<rect x="470.25" y="454.40" width="3.20" height="3.80" fill="none" stroke="#b5c0c9" stroke-width="0.9" opacity="0.55" />
<rect x="477.50" y="454.40" width="3.20" height="3.80" fill="none" stroke="#b5c0c9" stroke-width="0.9" opacity="0.55" />
<rect x="484.75" y="454.40" width="3.20" height="3.80" fill="none" stroke="#b5c0c9" stroke-width="0.9" opacity="0.55" />
<rect x="492.00" y="454.40" width="3.20" height="3.80" fill="none" stroke="#b5c0c9" stroke-width="0.9" opacity="0.55" />
<rect x="499.25" y="454.40" width="3.20" height="3.80" fill="none" stroke="#b5c0c9" stroke-width="0.9" opacity="0.55" />
<rect x="506.50" y="454.40" width="3.20" height="3.80" fill="none" stroke="#b5c0c9" stroke-width="0.9" opacity="0.55" />
<rect x="513.75" y="454.40" width="3.20" height="3.80" fill="none" stroke="#b5c0c9" stroke-width="0.9" opacity="0.55" />
<rect x="521.00" y="454.40" width="3.20" height="3.80" fill="none" stroke="#b5c0c9" stroke-width="0.9" opacity="0.55" />
<rect x="528.25" y="454.40" width="3.20" height="3.80" fill="none" stroke="#b5c0c9" stroke-width="0.9" opacity="0.55" />
<rect x="535.50" y="454.40" width="3.20" height="3.80" fill="none" stroke="#b5c0c9" stroke-width="0.9" opacity="0.55" />
<rect x="542.75" y="454.40" width="3.20" height="3.80" fill="none" stroke="#b5c0c9" stroke-width="0.9" opacity="0.55" />
<rect x="550.00" y="454.40" width="3.20" height="3.80" fill="none" stroke="#b5c0c9" stroke-width="0.9" opacity="0.55" />
<rect x="557.25" y="454.40" width="3.20" height="3.80" fill="none" stroke="#b5c0c9" stroke-width="0.9" opacity="0.55" />
<rect x="564.50" y="454.40" width="3.20" height="3.80" fill="none" stroke="#b5c0c9" stroke-width="0.9" opacity="0.55" />
<rect x="571.75" y="454.40" width="3.20" height="3.80" fill="none" stroke="#b5c0c9" stroke-width="0.9" opacity="0.55" />
<rect x="579.00" y="454.40" width="3.20" height="3.80" fill="none" stroke="#b5c0c9" stroke-width="0.9" opacity="0.55" />
<rect x="586.25" y="454.40" width="3.20" height="3.80" fill="none" stroke="#b5c0c9" stroke-width="0.9" opacity="0.55" />
<rect x="593.50" y="454.40" width="3.20" height="3.80" fill="none" stroke="#b5c0c9" stroke-width="0.9" opacity="0.55" />
<rect x="600.75" y="454.40" width="3.20" height="3.80" fill="none" stroke="#b5c0c9" stroke-width="0.9" opacity="0.55" />
<rect x="608.00" y="454.40" width="3.20" height="3.80" fill="none" stroke="#b5c0c9" stroke-width="0.9" opacity="0.55" />
<rect x="615.25" y="454.40" width="3.20" height="3.80" fill="none" stroke="#b5c0c9" stroke-width="0.9" opacity="0.55" />
<rect x="622.50" y="454.40" width="3.20" height="3.80" fill="none" stroke="#b5c0c9" stroke-width="0.9" opacity="0.55" />
<rect x="629.75" y="454.40" width="3.20" height="3.80" fill="none" stroke="#b5c0c9" stroke-width="0.9" opacity="0.55" />
<rect x="637.00" y="454.40" width="3.20" height="3.80" fill="none" stroke="#b5c0c9" stroke-width="0.9" opacity="0.55" />
<rect x="644.25" y="454.40" width="3.20" height="3.80" fill="none" stroke="#b5c0c9" stroke-width="0.9" opacity="0.55" />
<rect x="651.50" y="454.40" width="3.20" height="3.80" fill="none" stroke="#b5c0c9" stroke-width="0.9" opacity="0.55" />
<rect x="658.75" y="454.40" width="3.20" height="3.80" fill="none" stroke="#b5c0c9" stroke-width="0.9" opacity="0.55" />
<rect x="666.00" y="454.40" width="3.20" height="3.80" fill="none" stroke="#b5c0c9" stroke-width="0.9" opacity="0.55" />
<rect x="673.25" y="454.40" width="3.20" height="3.80" fill="none" stroke="#b5c0c9" stroke-width="0.9" opacity="0.55" />
<rect x="680.50" y="454.40" width="3.20" height="3.80" fill="none" stroke="#b5c0c9" stroke-width="0.9" opacity="0.55" />
<rect x="687.75" y="454.40" width="3.20" height="3.80" fill="none" stroke="#b5c0c9" stroke-width="0.9" opacity="0.55" />
<rect x="695.00" y="454.40" width="3.20" height="3.80" fill="none" stroke="#b5c0c9" stroke-width="0.9" opacity="0.55" />
<rect x="702.25" y="454.40" width="3.20" height="3.80" fill="none" stroke="#b5c0c9" stroke-width="0.9" opacity="0.55" />
<rect x="709.50" y="454.40" width="3.20" height="3.80" fill="none" stroke="#b5c0c9" stroke-width="0.9" opacity="0.55" />
<rect x="716.75" y="454.40" width="3.20" height="3.80" fill="none" stroke="#b5c0c9" stroke-width="0.9" opacity="0.55" />
<rect x="724.00" y="454.40" width="3.20" height="3.80" fill="none" stroke="#b5c0c9" stroke-width="0.9" opacity="0.55" />
<rect x="731.25" y="454.40" width="3.20" height="3.80" fill="none" stroke="#b5c0c9" stroke-width="0.9" opacity="0.55" />
<rect x="738.50" y="454.40" width="3.20" height="3.80" fill="none" stroke="#b5c0c9" stroke-width="0.9" opacity="0.55" />
<rect x="745.75" y="454.40" width="3.20" height="3.80" fill="none" stroke="#b5c0c9" stroke-width="0.9" opacity="0.55" />
<rect x="753.00" y="454.40" width="3.20" height="3.80" fill="none" stroke="#b5c0c9" stroke-width="0.9" opacity="0.55" />
<rect x="760.25" y="454.40" width="3.20" height="3.80" fill="none" stroke="#b5c0c9" stroke-width="0.9" opacity="0.55" />
<rect x="767.50" y="454.40" width="3.20" height="3.80" fill="none" stroke="#b5c0c9" stroke-width="0.9" opacity="0.55" />
<rect x="774.75" y="454.40" width="3.20" height="3.80" fill="none" stroke="#b5c0c9" stroke-width="0.9" opacity="0.55" />
<rect x="782.00" y="454.40" width="3.20" height="3.80" fill="none" stroke="#b5c0c9" stroke-width="0.9" opacity="0.55" />
<rect x="789.25" y="454.40" width="3.20" height="3.80" fill="none" stroke="#b5c0c9" stroke-width="0.9" opacity="0.55" />
<rect x="796.50" y="454.40" width="3.20" height="3.80" fill="none" stroke="#b5c0c9" stroke-width="0.9" opacity="0.55" />
<rect x="803.75" y="454.40" width="3.20" height="3.80" fill="none" stroke="#b5c0c9" stroke-width="0.9" opacity="0.55" />
<rect x="811.00" y="454.40" width="3.20" height="3.80" fill="none" stroke="#b5c0c9" stroke-width="0.9" opacity="0.55" />
<rect x="818.25" y="454.40" width="3.20" height="3.80" fill="none" stroke="#b5c0c9" stroke-width="0.9" opacity="0.55" />
<rect x="825.50" y="454.40" width="3.20" height="3.80" fill="none" stroke="#b5c0c9" stroke-width="0.9" opacity="0.55" />
<rect x="832.75" y="454.40" width="3.20" height="3.80" fill="none" stroke="#b5c0c9" stroke-width="0.9" opacity="0.55" />
<rect x="840.00" y="454.40" width="3.20" height="3.80" fill="none" stroke="#b5c0c9" stroke-width="0.9" opacity="0.55" />
<rect x="847.25" y="454.40" width="3.20" height="3.80" fill="none" stroke="#b5c0c9" stroke-width="0.9" opacity="0.55" />
<rect x="854.50" y="454.40" width="3.20" height="3.80" fill="none" stroke="#b5c0c9" stroke-width="0.9" opacity="0.55" />
<rect x="861.75" y="454.40" width="3.20" height="3.80" fill="none" stroke="#b5c0c9" stroke-width="0.9" opacity="0.55" />
<rect x="869.00" y="454.40" width="3.20" height="3.80" fill="none" stroke="#b5c0c9" stroke-width="0.9" opacity="0.55" />
<rect x="876.25" y="454.40" width="3.20" height="3.80" fill="none" stroke="#b5c0c9" stroke-width="0.9" opacity="0.55" />
<rect x="883.50" y="454.40" width="3.20" height="3.80" fill="none" stroke="#b5c0c9" stroke-width="0.9" opacity="0.55" />
<rect x="890.75" y="454.40" width="3.20" height="3.80" fill="none" stroke="#b5c0c9" stroke-width="0.9" opacity="0.55" />
<rect x="898.00" y="454.40" width="3.20" height="3.80" fill="none" stroke="#b5c0c9" stroke-width="0.9" opacity="0.55" />
<rect x="905.25" y="454.40" width="3.20" height="3.80" fill="none" stroke="#b5c0c9" stroke-width="0.9" opacity="0.55" />
<rect x="912.50" y="454.40" width="3.20" height="3.80" fill="none" stroke="#b5c0c9" stroke-width="0.9" opacity="0.55" />
<rect x="919.75" y="454.40" width="3.20" height="3.80" fill="none" stroke="#b5c0c9" stroke-width="0.9" opacity="0.55" />
<rect x="927.00" y="454.40" width="3.20" height="3.80" fill="none" stroke="#b5c0c9" stroke-width="0.9" opacity="0.55" />
<rect x="934.25" y="454.40" width="3.20" height="3.80" fill="none" stroke="#b5c0c9" stroke-width="0.9" opacity="0.55" />
<rect x="941.50" y="454.40" width="3.20" height="3.80" fill="none" stroke="#b5c0c9" stroke-width="0.9" opacity="0.55" />
<rect x="948.75" y="454.40" width="3.20" height="3.80" fill="none" stroke="#b5c0c9" stroke-width="0.9" opacity="0.55" />
<rect x="956.00" y="454.40" width="3.20" height="3.80" fill="none" stroke="#b5c0c9" stroke-width="0.9" opacity="0.55" />
<rect x="963.25" y="454.40" width="3.20" height="3.80" fill="none" stroke="#b5c0c9" stroke-width="0.9" opacity="0.55" />
<rect x="970.50" y="454.40" width="3.20" height="3.80" fill="none" stroke="#b5c0c9" stroke-width="0.9" opacity="0.55" />
<rect x="977.75" y="454.40" width="3.20" height="3.80" fill="none" stroke="#b5c0c9" stroke-width="0.9" opacity="0.55" />
<rect x="985.00" y="454.40" width="3.20" height="3.80" fill="none" stroke="#b5c0c9" stroke-width="0.9" opacity="0.55" />
<rect x="992.25" y="454.40" width="3.20" height="3.80" fill="none" stroke="#b5c0c9" stroke-width="0.9" opacity="0.55" />
<rect x="999.50" y="454.40" width="3.20" height="3.80" fill="none" stroke="#b5c0c9" stroke-width="0.9" opacity="0.55" />
<line x1="271.50" y1="452.00" x2="1004.50" y2="452.00" stroke="#8d9aa6" stroke-width="2" />
<rect x="277.00" y="469.30" width="724.30" height="179.70" fill="#05263e" />
<rect x="277.00" y="469.30" width="724.30" height="179.70" fill="url(#brick)" opacity="0.85" />
<rect x="277.00" y="469.30" width="724.30" height="179.70" fill="url(#gWall)" />
<rect x="271.00" y="469.30" width="6.00" height="179.70" fill="#5d7585" opacity="0.55" />
<rect x="271.00" y="469.30" width="6.00" height="179.70" fill="url(#gWall)" opacity="0.8" />
<line x1="271.20" y1="313.00" x2="271.20" y2="649.00" stroke="#c5d0d8" stroke-width="0.8" opacity="0.8" />
<line x1="273.40" y1="469.30" x2="273.40" y2="649.00" stroke="#c5d0d8" stroke-width="0.8" opacity="0.8" />
<line x1="275.80" y1="469.30" x2="275.80" y2="649.00" stroke="#c5d0d8" stroke-width="0.8" opacity="0.8" />
<rect x="1004.60" y="367.00" width="4.20" height="282.50" fill="#8fa3b3" opacity="0.55" />
<rect x="1001.30" y="469.30" width="5.20" height="179.70" fill="#5d7585" opacity="0.55" />
<rect x="1001.30" y="469.30" width="5.20" height="179.70" fill="url(#gWall)" opacity="0.8" />
<line x1="1002.00" y1="469.30" x2="1002.00" y2="649.00" stroke="#c5d0d8" stroke-width="0.8" opacity="0.8" />
<line x1="1004.40" y1="469.30" x2="1004.40" y2="649.00" stroke="#c5d0d8" stroke-width="0.8" opacity="0.8" />
<line x1="1006.50" y1="313.00" x2="1006.50" y2="649.00" stroke="#c5d0d8" stroke-width="0.8" opacity="0.8" />
<path d="M271.2 452 V313.2 H1006.6 V367" stroke="#dfe6ec" stroke-width="1.5" fill="none" />
<rect x="300.70" y="473.00" width="31.20" height="33.00" fill="url(#gLit2)" />
<rect x="300.90" y="563.60" width="30.80" height="7.60" fill="#647a8a" opacity="0.8" />
<rect x="300.70" y="506.00" width="1.70" height="57.00" fill="#1d3b52" opacity="0.45" />
<rect x="330.20" y="506.00" width="1.70" height="57.00" fill="#1d3b52" opacity="0.45" />
<rect x="302.40" y="507.40" width="27.80" height="55.00" fill="#05263e" stroke="#cfd9e0" stroke-width="1.3" />
<line x1="301.30" y1="563.00" x2="331.30" y2="563.00" stroke="#9fb0bc" stroke-width="1.2" />
<rect x="303.70" y="565.20" width="3.30" height="3.60" fill="none" stroke="#a9b7c1" stroke-width="0.9" />
<rect x="310.90" y="565.20" width="3.30" height="3.60" fill="none" stroke="#a9b7c1" stroke-width="0.9" />
<rect x="318.10" y="565.20" width="3.30" height="3.60" fill="none" stroke="#a9b7c1" stroke-width="0.9" />
<rect x="325.30" y="565.20" width="3.30" height="3.60" fill="none" stroke="#a9b7c1" stroke-width="0.9" />
<rect x="300.70" y="573.50" width="31.20" height="8.50" fill="url(#gLit1)" />
<rect x="301.30" y="582.00" width="30.00" height="66.80" fill="#05263e" stroke="#f4ecd0" stroke-width="1.0" />
<rect x="301.70" y="502.70" width="5.20" height="2.20" fill="#f01410" />
<rect x="310.00" y="502.70" width="5.20" height="2.20" fill="#f01410" />
<rect x="318.30" y="502.70" width="5.20" height="2.20" fill="#f01410" />
<rect x="326.60" y="502.70" width="4.70" height="2.20" fill="#f01410" />
<rect x="301.70" y="578.70" width="5.20" height="2.20" fill="#f01410" />
<rect x="310.00" y="578.70" width="5.20" height="2.20" fill="#f01410" />
<rect x="318.30" y="578.70" width="5.20" height="2.20" fill="#f01410" />
<rect x="326.60" y="578.70" width="4.70" height="2.20" fill="#f01410" />
<rect x="366.40" y="473.00" width="31.20" height="33.00" fill="url(#gLit2)" />
<rect x="366.60" y="563.60" width="30.80" height="7.60" fill="#647a8a" opacity="0.8" />
<rect x="366.40" y="506.00" width="1.70" height="57.00" fill="#1d3b52" opacity="0.45" />
<rect x="395.90" y="506.00" width="1.70" height="57.00" fill="#1d3b52" opacity="0.45" />
<rect x="368.10" y="507.40" width="27.80" height="55.00" fill="#05263e" stroke="#cfd9e0" stroke-width="1.3" />
<line x1="367.00" y1="563.00" x2="397.00" y2="563.00" stroke="#9fb0bc" stroke-width="1.2" />
<rect x="369.40" y="565.20" width="3.30" height="3.60" fill="none" stroke="#a9b7c1" stroke-width="0.9" />
<rect x="376.60" y="565.20" width="3.30" height="3.60" fill="none" stroke="#a9b7c1" stroke-width="0.9" />
<rect x="383.80" y="565.20" width="3.30" height="3.60" fill="none" stroke="#a9b7c1" stroke-width="0.9" />
<rect x="391.00" y="565.20" width="3.30" height="3.60" fill="none" stroke="#a9b7c1" stroke-width="0.9" />
<rect x="366.40" y="573.50" width="31.20" height="8.50" fill="url(#gLit1)" />
<rect x="367.00" y="582.00" width="30.00" height="66.80" fill="#05263e" stroke="#f4ecd0" stroke-width="1.0" />
<rect x="367.40" y="502.70" width="5.20" height="2.20" fill="#f01410" />
<rect x="375.70" y="502.70" width="5.20" height="2.20" fill="#f01410" />
<rect x="384.00" y="502.70" width="5.20" height="2.20" fill="#f01410" />
<rect x="392.30" y="502.70" width="4.70" height="2.20" fill="#f01410" />
<rect x="367.40" y="578.70" width="5.20" height="2.20" fill="#f01410" />
<rect x="375.70" y="578.70" width="5.20" height="2.20" fill="#f01410" />
<rect x="384.00" y="578.70" width="5.20" height="2.20" fill="#f01410" />
<rect x="392.30" y="578.70" width="4.70" height="2.20" fill="#f01410" />
<rect x="439.50" y="473.00" width="31.20" height="33.00" fill="url(#gLit2)" />
<rect x="439.70" y="563.60" width="30.80" height="7.60" fill="#647a8a" opacity="0.8" />
<rect x="439.50" y="506.00" width="1.70" height="57.00" fill="#1d3b52" opacity="0.45" />
<rect x="469.00" y="506.00" width="1.70" height="57.00" fill="#1d3b52" opacity="0.45" />
<rect x="441.20" y="507.40" width="27.80" height="55.00" fill="#05263e" stroke="#cfd9e0" stroke-width="1.3" />
<line x1="440.10" y1="563.00" x2="470.10" y2="563.00" stroke="#9fb0bc" stroke-width="1.2" />
<rect x="442.50" y="565.20" width="3.30" height="3.60" fill="none" stroke="#a9b7c1" stroke-width="0.9" />
<rect x="449.70" y="565.20" width="3.30" height="3.60" fill="none" stroke="#a9b7c1" stroke-width="0.9" />
<rect x="456.90" y="565.20" width="3.30" height="3.60" fill="none" stroke="#a9b7c1" stroke-width="0.9" />
<rect x="464.10" y="565.20" width="3.30" height="3.60" fill="none" stroke="#a9b7c1" stroke-width="0.9" />
<rect x="439.50" y="573.50" width="31.20" height="8.50" fill="url(#gLit1)" />
<rect x="440.10" y="582.00" width="30.00" height="66.80" fill="#05263e" stroke="#f4ecd0" stroke-width="1.0" />
<rect x="440.50" y="502.70" width="5.20" height="2.20" fill="#f01410" />
<rect x="448.80" y="502.70" width="5.20" height="2.20" fill="#f01410" />
<rect x="457.10" y="502.70" width="5.20" height="2.20" fill="#f01410" />
<rect x="465.40" y="502.70" width="4.70" height="2.20" fill="#f01410" />
<rect x="440.50" y="578.70" width="5.20" height="2.20" fill="#f01410" />
<rect x="448.80" y="578.70" width="5.20" height="2.20" fill="#f01410" />
<rect x="457.10" y="578.70" width="5.20" height="2.20" fill="#f01410" />
<rect x="465.40" y="578.70" width="4.70" height="2.20" fill="#f01410" />
<rect x="512.60" y="473.00" width="31.20" height="33.00" fill="url(#gLit2)" />
<rect x="512.80" y="563.60" width="30.80" height="7.60" fill="#647a8a" opacity="0.8" />
<rect x="512.60" y="506.00" width="1.70" height="57.00" fill="#1d3b52" opacity="0.45" />
<rect x="542.10" y="506.00" width="1.70" height="57.00" fill="#1d3b52" opacity="0.45" />
<rect x="514.30" y="507.40" width="27.80" height="55.00" fill="#05263e" stroke="#cfd9e0" stroke-width="1.3" />
<line x1="513.20" y1="563.00" x2="543.20" y2="563.00" stroke="#9fb0bc" stroke-width="1.2" />
<rect x="515.60" y="565.20" width="3.30" height="3.60" fill="none" stroke="#a9b7c1" stroke-width="0.9" />
<rect x="522.80" y="565.20" width="3.30" height="3.60" fill="none" stroke="#a9b7c1" stroke-width="0.9" />
<rect x="530.00" y="565.20" width="3.30" height="3.60" fill="none" stroke="#a9b7c1" stroke-width="0.9" />
<rect x="537.20" y="565.20" width="3.30" height="3.60" fill="none" stroke="#a9b7c1" stroke-width="0.9" />
<rect x="512.60" y="573.50" width="31.20" height="8.50" fill="url(#gLit1)" />
<rect x="513.20" y="582.00" width="30.00" height="66.80" fill="#05263e" stroke="#f4ecd0" stroke-width="1.0" />
<rect x="513.60" y="502.70" width="5.20" height="2.20" fill="#f01410" />
<rect x="521.90" y="502.70" width="5.20" height="2.20" fill="#f01410" />
<rect x="530.20" y="502.70" width="5.20" height="2.20" fill="#f01410" />
<rect x="538.50" y="502.70" width="4.70" height="2.20" fill="#f01410" />
<rect x="513.60" y="578.70" width="5.20" height="2.20" fill="#f01410" />
<rect x="521.90" y="578.70" width="5.20" height="2.20" fill="#f01410" />
<rect x="530.20" y="578.70" width="5.20" height="2.20" fill="#f01410" />
<rect x="538.50" y="578.70" width="4.70" height="2.20" fill="#f01410" />
<rect x="585.70" y="473.00" width="31.20" height="33.00" fill="url(#gLit2)" />
<rect x="585.90" y="563.60" width="30.80" height="7.60" fill="#647a8a" opacity="0.8" />
<rect x="585.70" y="506.00" width="1.70" height="57.00" fill="#1d3b52" opacity="0.45" />
<rect x="615.20" y="506.00" width="1.70" height="57.00" fill="#1d3b52" opacity="0.45" />
<rect x="587.40" y="507.40" width="27.80" height="55.00" fill="#05263e" stroke="#cfd9e0" stroke-width="1.3" />
<line x1="586.30" y1="563.00" x2="616.30" y2="563.00" stroke="#9fb0bc" stroke-width="1.2" />
<rect x="588.70" y="565.20" width="3.30" height="3.60" fill="none" stroke="#a9b7c1" stroke-width="0.9" />
<rect x="595.90" y="565.20" width="3.30" height="3.60" fill="none" stroke="#a9b7c1" stroke-width="0.9" />
<rect x="603.10" y="565.20" width="3.30" height="3.60" fill="none" stroke="#a9b7c1" stroke-width="0.9" />
<rect x="610.30" y="565.20" width="3.30" height="3.60" fill="none" stroke="#a9b7c1" stroke-width="0.9" />
<rect x="585.70" y="573.50" width="31.20" height="8.50" fill="url(#gLit1)" />
<rect x="586.30" y="582.00" width="30.00" height="66.80" fill="#05263e" stroke="#f4ecd0" stroke-width="1.0" />
<rect x="586.70" y="502.70" width="5.20" height="2.20" fill="#f01410" />
<rect x="595.00" y="502.70" width="5.20" height="2.20" fill="#f01410" />
<rect x="603.30" y="502.70" width="5.20" height="2.20" fill="#f01410" />
<rect x="611.60" y="502.70" width="4.70" height="2.20" fill="#f01410" />
<rect x="586.70" y="578.70" width="5.20" height="2.20" fill="#f01410" />
<rect x="595.00" y="578.70" width="5.20" height="2.20" fill="#f01410" />
<rect x="603.30" y="578.70" width="5.20" height="2.20" fill="#f01410" />
<rect x="611.60" y="578.70" width="4.70" height="2.20" fill="#f01410" />
<rect x="658.80" y="473.00" width="31.20" height="33.00" fill="url(#gLit2)" />
<rect x="659.00" y="563.60" width="30.80" height="7.60" fill="#647a8a" opacity="0.8" />
<rect x="658.80" y="506.00" width="1.70" height="57.00" fill="#1d3b52" opacity="0.45" />
<rect x="688.30" y="506.00" width="1.70" height="57.00" fill="#1d3b52" opacity="0.45" />
<rect x="660.50" y="507.40" width="27.80" height="55.00" fill="#05263e" stroke="#cfd9e0" stroke-width="1.3" />
<line x1="659.40" y1="563.00" x2="689.40" y2="563.00" stroke="#9fb0bc" stroke-width="1.2" />
<rect x="661.80" y="565.20" width="3.30" height="3.60" fill="none" stroke="#a9b7c1" stroke-width="0.9" />
<rect x="669.00" y="565.20" width="3.30" height="3.60" fill="none" stroke="#a9b7c1" stroke-width="0.9" />
<rect x="676.20" y="565.20" width="3.30" height="3.60" fill="none" stroke="#a9b7c1" stroke-width="0.9" />
<rect x="683.40" y="565.20" width="3.30" height="3.60" fill="none" stroke="#a9b7c1" stroke-width="0.9" />
<rect x="658.80" y="573.50" width="31.20" height="8.50" fill="url(#gLit1)" />
<rect x="659.40" y="582.00" width="30.00" height="66.80" fill="#05263e" stroke="#f4ecd0" stroke-width="1.0" />
<rect x="659.80" y="502.70" width="5.20" height="2.20" fill="#f01410" />
<rect x="668.10" y="502.70" width="5.20" height="2.20" fill="#f01410" />
<rect x="676.40" y="502.70" width="5.20" height="2.20" fill="#f01410" />
<rect x="684.70" y="502.70" width="4.70" height="2.20" fill="#f01410" />
<rect x="659.80" y="578.70" width="5.20" height="2.20" fill="#f01410" />
<rect x="668.10" y="578.70" width="5.20" height="2.20" fill="#f01410" />
<rect x="676.40" y="578.70" width="5.20" height="2.20" fill="#f01410" />
<rect x="684.70" y="578.70" width="4.70" height="2.20" fill="#f01410" />
<rect x="731.90" y="473.00" width="31.20" height="33.00" fill="url(#gLit2)" />
<rect x="732.10" y="563.60" width="30.80" height="7.60" fill="#647a8a" opacity="0.8" />
<rect x="731.90" y="506.00" width="1.70" height="57.00" fill="#1d3b52" opacity="0.45" />
<rect x="761.40" y="506.00" width="1.70" height="57.00" fill="#1d3b52" opacity="0.45" />
<rect x="733.60" y="507.40" width="27.80" height="55.00" fill="#05263e" stroke="#cfd9e0" stroke-width="1.3" />
<line x1="732.50" y1="563.00" x2="762.50" y2="563.00" stroke="#9fb0bc" stroke-width="1.2" />
<rect x="734.90" y="565.20" width="3.30" height="3.60" fill="none" stroke="#a9b7c1" stroke-width="0.9" />
<rect x="742.10" y="565.20" width="3.30" height="3.60" fill="none" stroke="#a9b7c1" stroke-width="0.9" />
<rect x="749.30" y="565.20" width="3.30" height="3.60" fill="none" stroke="#a9b7c1" stroke-width="0.9" />
<rect x="756.50" y="565.20" width="3.30" height="3.60" fill="none" stroke="#a9b7c1" stroke-width="0.9" />
<rect x="731.90" y="573.50" width="31.20" height="8.50" fill="url(#gLit1)" />
<rect x="732.50" y="582.00" width="30.00" height="66.80" fill="#05263e" stroke="#f4ecd0" stroke-width="1.0" />
<rect x="732.90" y="502.70" width="5.20" height="2.20" fill="#f01410" />
<rect x="741.20" y="502.70" width="5.20" height="2.20" fill="#f01410" />
<rect x="749.50" y="502.70" width="5.20" height="2.20" fill="#f01410" />
<rect x="757.80" y="502.70" width="4.70" height="2.20" fill="#f01410" />
<rect x="732.90" y="578.70" width="5.20" height="2.20" fill="#f01410" />
<rect x="741.20" y="578.70" width="5.20" height="2.20" fill="#f01410" />
<rect x="749.50" y="578.70" width="5.20" height="2.20" fill="#f01410" />
<rect x="757.80" y="578.70" width="4.70" height="2.20" fill="#f01410" />
<rect x="805.00" y="473.00" width="31.20" height="33.00" fill="url(#gLit2)" />
<rect x="805.20" y="563.60" width="30.80" height="7.60" fill="#647a8a" opacity="0.8" />
<rect x="805.00" y="506.00" width="1.70" height="57.00" fill="#1d3b52" opacity="0.45" />
<rect x="834.50" y="506.00" width="1.70" height="57.00" fill="#1d3b52" opacity="0.45" />
<rect x="806.70" y="507.40" width="27.80" height="55.00" fill="#05263e" stroke="#cfd9e0" stroke-width="1.3" />
<line x1="805.60" y1="563.00" x2="835.60" y2="563.00" stroke="#9fb0bc" stroke-width="1.2" />
<rect x="808.00" y="565.20" width="3.30" height="3.60" fill="none" stroke="#a9b7c1" stroke-width="0.9" />
<rect x="815.20" y="565.20" width="3.30" height="3.60" fill="none" stroke="#a9b7c1" stroke-width="0.9" />
<rect x="822.40" y="565.20" width="3.30" height="3.60" fill="none" stroke="#a9b7c1" stroke-width="0.9" />
<rect x="829.60" y="565.20" width="3.30" height="3.60" fill="none" stroke="#a9b7c1" stroke-width="0.9" />
<rect x="805.00" y="573.50" width="31.20" height="8.50" fill="url(#gLit1)" />
<rect x="805.60" y="582.00" width="30.00" height="66.80" fill="#05263e" stroke="#f4ecd0" stroke-width="1.0" />
<rect x="806.00" y="502.70" width="5.20" height="2.20" fill="#f01410" />
<rect x="814.30" y="502.70" width="5.20" height="2.20" fill="#f01410" />
<rect x="822.60" y="502.70" width="5.20" height="2.20" fill="#f01410" />
<rect x="830.90" y="502.70" width="4.70" height="2.20" fill="#f01410" />
<rect x="806.00" y="578.70" width="5.20" height="2.20" fill="#f01410" />
<rect x="814.30" y="578.70" width="5.20" height="2.20" fill="#f01410" />
<rect x="822.60" y="578.70" width="5.20" height="2.20" fill="#f01410" />
<rect x="830.90" y="578.70" width="4.70" height="2.20" fill="#f01410" />
<rect x="877.90" y="473.00" width="31.20" height="33.00" fill="url(#gLit2)" />
<rect x="878.10" y="563.60" width="30.80" height="7.60" fill="#647a8a" opacity="0.8" />
<rect x="877.90" y="506.00" width="1.70" height="57.00" fill="#1d3b52" opacity="0.45" />
<rect x="907.40" y="506.00" width="1.70" height="57.00" fill="#1d3b52" opacity="0.45" />
<rect x="879.60" y="507.40" width="27.80" height="55.00" fill="#05263e" stroke="#cfd9e0" stroke-width="1.3" />
<line x1="878.50" y1="563.00" x2="908.50" y2="563.00" stroke="#9fb0bc" stroke-width="1.2" />
<rect x="880.90" y="565.20" width="3.30" height="3.60" fill="none" stroke="#a9b7c1" stroke-width="0.9" />
<rect x="888.10" y="565.20" width="3.30" height="3.60" fill="none" stroke="#a9b7c1" stroke-width="0.9" />
<rect x="895.30" y="565.20" width="3.30" height="3.60" fill="none" stroke="#a9b7c1" stroke-width="0.9" />
<rect x="902.50" y="565.20" width="3.30" height="3.60" fill="none" stroke="#a9b7c1" stroke-width="0.9" />
<rect x="877.90" y="573.50" width="31.20" height="8.50" fill="url(#gLit1)" />
<rect x="878.50" y="582.00" width="30.00" height="66.80" fill="#05263e" stroke="#f4ecd0" stroke-width="1.0" />
<rect x="878.90" y="502.70" width="5.20" height="2.20" fill="#f01410" />
<rect x="887.20" y="502.70" width="5.20" height="2.20" fill="#f01410" />
<rect x="895.50" y="502.70" width="5.20" height="2.20" fill="#f01410" />
<rect x="903.80" y="502.70" width="4.70" height="2.20" fill="#f01410" />
<rect x="878.90" y="578.70" width="5.20" height="2.20" fill="#f01410" />
<rect x="887.20" y="578.70" width="5.20" height="2.20" fill="#f01410" />
<rect x="895.50" y="578.70" width="5.20" height="2.20" fill="#f01410" />
<rect x="903.80" y="578.70" width="4.70" height="2.20" fill="#f01410" />
<rect x="943.60" y="473.00" width="31.20" height="33.00" fill="url(#gLit2)" />
<rect x="943.80" y="563.60" width="30.80" height="7.60" fill="#647a8a" opacity="0.8" />
<rect x="943.60" y="506.00" width="1.70" height="57.00" fill="#1d3b52" opacity="0.45" />
<rect x="973.10" y="506.00" width="1.70" height="57.00" fill="#1d3b52" opacity="0.45" />
<rect x="945.30" y="507.40" width="27.80" height="55.00" fill="#05263e" stroke="#cfd9e0" stroke-width="1.3" />
<line x1="944.20" y1="563.00" x2="974.20" y2="563.00" stroke="#9fb0bc" stroke-width="1.2" />
<rect x="946.60" y="565.20" width="3.30" height="3.60" fill="none" stroke="#a9b7c1" stroke-width="0.9" />
<rect x="953.80" y="565.20" width="3.30" height="3.60" fill="none" stroke="#a9b7c1" stroke-width="0.9" />
<rect x="961.00" y="565.20" width="3.30" height="3.60" fill="none" stroke="#a9b7c1" stroke-width="0.9" />
<rect x="968.20" y="565.20" width="3.30" height="3.60" fill="none" stroke="#a9b7c1" stroke-width="0.9" />
<rect x="943.60" y="573.50" width="31.20" height="8.50" fill="url(#gLit1)" />
<rect x="944.20" y="582.00" width="30.00" height="66.80" fill="#05263e" stroke="#f4ecd0" stroke-width="1.0" />
<rect x="944.60" y="502.70" width="5.20" height="2.20" fill="#f01410" />
<rect x="952.90" y="502.70" width="5.20" height="2.20" fill="#f01410" />
<rect x="961.20" y="502.70" width="5.20" height="2.20" fill="#f01410" />
<rect x="969.50" y="502.70" width="4.70" height="2.20" fill="#f01410" />
<rect x="944.60" y="578.70" width="5.20" height="2.20" fill="#f01410" />
<rect x="952.90" y="578.70" width="5.20" height="2.20" fill="#f01410" />
<rect x="961.20" y="578.70" width="5.20" height="2.20" fill="#f01410" />
<rect x="969.50" y="578.70" width="4.70" height="2.20" fill="#f01410" />
<line x1="271.00" y1="649.60" x2="1006.50" y2="649.60" stroke="#cfd6dc" stroke-width="1.4" />
<line x1="271.00" y1="652.20" x2="1006.50" y2="652.20" stroke="#5f7889" stroke-width="0.8" />
<path d="M304.5 449.3 V468.0" stroke="#0c0cf0" stroke-width="1.7" fill="none"/>
<path d="M304.5 445.3 L306.8 450.9 H302.2 Z" fill="#0c0cf0"/>
<rect x="302.90" y="465.70" width="3.20" height="3.20" fill="#0c0cf0" />
<path d="M304.5 540.7 V561.0" stroke="#0c0cf0" stroke-width="1.7" fill="none"/>
<path d="M304.5 536.7 L306.8 542.3 H302.2 Z" fill="#0c0cf0"/>
<rect x="302.90" y="558.70" width="3.20" height="3.20" fill="#0c0cf0" />
<path d="M304.5 629.0 V647.6" stroke="#0c0cf0" stroke-width="1.7" fill="none"/>
<path d="M304.5 625.0 L306.8 630.6 H302.2 Z" fill="#0c0cf0"/>
<rect x="302.90" y="645.30" width="3.20" height="3.20" fill="#0c0cf0" />
<path d="M328.1 449.3 V468.0" stroke="#0c0cf0" stroke-width="1.7" fill="none"/>
<path d="M328.1 445.3 L330.4 450.9 H325.8 Z" fill="#0c0cf0"/>
<rect x="326.50" y="465.70" width="3.20" height="3.20" fill="#0c0cf0" />
<path d="M328.1 540.7 V561.0" stroke="#0c0cf0" stroke-width="1.7" fill="none"/>
<path d="M328.1 536.7 L330.4 542.3 H325.8 Z" fill="#0c0cf0"/>
<rect x="326.50" y="558.70" width="3.20" height="3.20" fill="#0c0cf0" />
<path d="M328.1 629.0 V647.6" stroke="#0c0cf0" stroke-width="1.7" fill="none"/>
<path d="M328.1 625.0 L330.4 630.6 H325.8 Z" fill="#0c0cf0"/>
<rect x="326.50" y="645.30" width="3.20" height="3.20" fill="#0c0cf0" />
<path d="M314.8 402.0 V417.5" stroke="#e6ad1a" stroke-width="1.6" fill="none"/>
<path d="M314.8 398.7 L318.0 403.9 H311.6 Z" fill="#e6ad1a"/>
<path d="M370.2 449.3 V468.0" stroke="#0c0cf0" stroke-width="1.7" fill="none"/>
<path d="M370.2 445.3 L372.5 450.9 H367.9 Z" fill="#0c0cf0"/>
<rect x="368.60" y="465.70" width="3.20" height="3.20" fill="#0c0cf0" />
<path d="M370.2 540.7 V561.0" stroke="#0c0cf0" stroke-width="1.7" fill="none"/>
<path d="M370.2 536.7 L372.5 542.3 H367.9 Z" fill="#0c0cf0"/>
<rect x="368.60" y="558.70" width="3.20" height="3.20" fill="#0c0cf0" />
<path d="M370.2 629.0 V647.6" stroke="#0c0cf0" stroke-width="1.7" fill="none"/>
<path d="M370.2 625.0 L372.5 630.6 H367.9 Z" fill="#0c0cf0"/>
<rect x="368.60" y="645.30" width="3.20" height="3.20" fill="#0c0cf0" />
<path d="M393.8 449.3 V468.0" stroke="#0c0cf0" stroke-width="1.7" fill="none"/>
<path d="M393.8 445.3 L396.1 450.9 H391.5 Z" fill="#0c0cf0"/>
<rect x="392.20" y="465.70" width="3.20" height="3.20" fill="#0c0cf0" />
<path d="M393.8 540.7 V561.0" stroke="#0c0cf0" stroke-width="1.7" fill="none"/>
<path d="M393.8 536.7 L396.1 542.3 H391.5 Z" fill="#0c0cf0"/>
<rect x="392.20" y="558.70" width="3.20" height="3.20" fill="#0c0cf0" />
<path d="M393.8 629.0 V647.6" stroke="#0c0cf0" stroke-width="1.7" fill="none"/>
<path d="M393.8 625.0 L396.1 630.6 H391.5 Z" fill="#0c0cf0"/>
<rect x="392.20" y="645.30" width="3.20" height="3.20" fill="#0c0cf0" />
<path d="M380.5 402.0 V417.5" stroke="#e6ad1a" stroke-width="1.6" fill="none"/>
<path d="M380.5 398.7 L383.7 403.9 H377.3 Z" fill="#e6ad1a"/>
<path d="M443.3 449.3 V468.0" stroke="#0c0cf0" stroke-width="1.7" fill="none"/>
<path d="M443.3 445.3 L445.6 450.9 H441.0 Z" fill="#0c0cf0"/>
<rect x="441.70" y="465.70" width="3.20" height="3.20" fill="#0c0cf0" />
<path d="M443.3 540.7 V561.0" stroke="#0c0cf0" stroke-width="1.7" fill="none"/>
<path d="M443.3 536.7 L445.6 542.3 H441.0 Z" fill="#0c0cf0"/>
<rect x="441.70" y="558.70" width="3.20" height="3.20" fill="#0c0cf0" />
<path d="M443.3 629.0 V647.6" stroke="#0c0cf0" stroke-width="1.7" fill="none"/>
<path d="M443.3 625.0 L445.6 630.6 H441.0 Z" fill="#0c0cf0"/>
<rect x="441.70" y="645.30" width="3.20" height="3.20" fill="#0c0cf0" />
<path d="M466.9 449.3 V468.0" stroke="#0c0cf0" stroke-width="1.7" fill="none"/>
<path d="M466.9 445.3 L469.2 450.9 H464.6 Z" fill="#0c0cf0"/>
<rect x="465.30" y="465.70" width="3.20" height="3.20" fill="#0c0cf0" />
<path d="M466.9 540.7 V561.0" stroke="#0c0cf0" stroke-width="1.7" fill="none"/>
<path d="M466.9 536.7 L469.2 542.3 H464.6 Z" fill="#0c0cf0"/>
<rect x="465.30" y="558.70" width="3.20" height="3.20" fill="#0c0cf0" />
<path d="M466.9 629.0 V647.6" stroke="#0c0cf0" stroke-width="1.7" fill="none"/>
<path d="M466.9 625.0 L469.2 630.6 H464.6 Z" fill="#0c0cf0"/>
<rect x="465.30" y="645.30" width="3.20" height="3.20" fill="#0c0cf0" />
<path d="M453.6 402.0 V417.5" stroke="#e6ad1a" stroke-width="1.6" fill="none"/>
<path d="M453.6 398.7 L456.8 403.9 H450.4 Z" fill="#e6ad1a"/>
<path d="M516.4 449.3 V468.0" stroke="#0c0cf0" stroke-width="1.7" fill="none"/>
<path d="M516.4 445.3 L518.7 450.9 H514.1 Z" fill="#0c0cf0"/>
<rect x="514.80" y="465.70" width="3.20" height="3.20" fill="#0c0cf0" />
<path d="M516.4 540.7 V561.0" stroke="#0c0cf0" stroke-width="1.7" fill="none"/>
<path d="M516.4 536.7 L518.7 542.3 H514.1 Z" fill="#0c0cf0"/>
<rect x="514.80" y="558.70" width="3.20" height="3.20" fill="#0c0cf0" />
<path d="M516.4 629.0 V647.6" stroke="#0c0cf0" stroke-width="1.7" fill="none"/>
<path d="M516.4 625.0 L518.7 630.6 H514.1 Z" fill="#0c0cf0"/>
<rect x="514.80" y="645.30" width="3.20" height="3.20" fill="#0c0cf0" />
<path d="M540.0 449.3 V468.0" stroke="#0c0cf0" stroke-width="1.7" fill="none"/>
<path d="M540.0 445.3 L542.3 450.9 H537.7 Z" fill="#0c0cf0"/>
<rect x="538.40" y="465.70" width="3.20" height="3.20" fill="#0c0cf0" />
<path d="M540.0 540.7 V561.0" stroke="#0c0cf0" stroke-width="1.7" fill="none"/>
<path d="M540.0 536.7 L542.3 542.3 H537.7 Z" fill="#0c0cf0"/>
<rect x="538.40" y="558.70" width="3.20" height="3.20" fill="#0c0cf0" />
<path d="M540.0 629.0 V647.6" stroke="#0c0cf0" stroke-width="1.7" fill="none"/>
<path d="M540.0 625.0 L542.3 630.6 H537.7 Z" fill="#0c0cf0"/>
<rect x="538.40" y="645.30" width="3.20" height="3.20" fill="#0c0cf0" />
<path d="M526.7 402.0 V417.5" stroke="#e6ad1a" stroke-width="1.6" fill="none"/>
<path d="M526.7 398.7 L529.9 403.9 H523.5 Z" fill="#e6ad1a"/>
<path d="M589.5 449.3 V468.0" stroke="#0c0cf0" stroke-width="1.7" fill="none"/>
<path d="M589.5 445.3 L591.8 450.9 H587.2 Z" fill="#0c0cf0"/>
<rect x="587.90" y="465.70" width="3.20" height="3.20" fill="#0c0cf0" />
<path d="M589.5 540.7 V561.0" stroke="#0c0cf0" stroke-width="1.7" fill="none"/>
<path d="M589.5 536.7 L591.8 542.3 H587.2 Z" fill="#0c0cf0"/>
<rect x="587.90" y="558.70" width="3.20" height="3.20" fill="#0c0cf0" />
<path d="M589.5 629.0 V647.6" stroke="#0c0cf0" stroke-width="1.7" fill="none"/>
<path d="M589.5 625.0 L591.8 630.6 H587.2 Z" fill="#0c0cf0"/>
<rect x="587.90" y="645.30" width="3.20" height="3.20" fill="#0c0cf0" />
<path d="M613.1 449.3 V468.0" stroke="#0c0cf0" stroke-width="1.7" fill="none"/>
<path d="M613.1 445.3 L615.4 450.9 H610.8 Z" fill="#0c0cf0"/>
<rect x="611.50" y="465.70" width="3.20" height="3.20" fill="#0c0cf0" />
<path d="M613.1 540.7 V561.0" stroke="#0c0cf0" stroke-width="1.7" fill="none"/>
<path d="M613.1 536.7 L615.4 542.3 H610.8 Z" fill="#0c0cf0"/>
<rect x="611.50" y="558.70" width="3.20" height="3.20" fill="#0c0cf0" />
<path d="M613.1 629.0 V647.6" stroke="#0c0cf0" stroke-width="1.7" fill="none"/>
<path d="M613.1 625.0 L615.4 630.6 H610.8 Z" fill="#0c0cf0"/>
<rect x="611.50" y="645.30" width="3.20" height="3.20" fill="#0c0cf0" />
<path d="M599.8 402.0 V417.5" stroke="#e6ad1a" stroke-width="1.6" fill="none"/>
<path d="M599.8 398.7 L603.0 403.9 H596.6 Z" fill="#e6ad1a"/>
<path d="M662.6 449.3 V468.0" stroke="#0c0cf0" stroke-width="1.7" fill="none"/>
<path d="M662.6 445.3 L664.9 450.9 H660.3 Z" fill="#0c0cf0"/>
<rect x="661.00" y="465.70" width="3.20" height="3.20" fill="#0c0cf0" />
<path d="M662.6 540.7 V561.0" stroke="#0c0cf0" stroke-width="1.7" fill="none"/>
<path d="M662.6 536.7 L664.9 542.3 H660.3 Z" fill="#0c0cf0"/>
<rect x="661.00" y="558.70" width="3.20" height="3.20" fill="#0c0cf0" />
<path d="M662.6 629.0 V647.6" stroke="#0c0cf0" stroke-width="1.7" fill="none"/>
<path d="M662.6 625.0 L664.9 630.6 H660.3 Z" fill="#0c0cf0"/>
<rect x="661.00" y="645.30" width="3.20" height="3.20" fill="#0c0cf0" />
<path d="M686.2 449.3 V468.0" stroke="#0c0cf0" stroke-width="1.7" fill="none"/>
<path d="M686.2 445.3 L688.5 450.9 H683.9 Z" fill="#0c0cf0"/>
<rect x="684.60" y="465.70" width="3.20" height="3.20" fill="#0c0cf0" />
<path d="M686.2 540.7 V561.0" stroke="#0c0cf0" stroke-width="1.7" fill="none"/>
<path d="M686.2 536.7 L688.5 542.3 H683.9 Z" fill="#0c0cf0"/>
<rect x="684.60" y="558.70" width="3.20" height="3.20" fill="#0c0cf0" />
<path d="M686.2 629.0 V647.6" stroke="#0c0cf0" stroke-width="1.7" fill="none"/>
<path d="M686.2 625.0 L688.5 630.6 H683.9 Z" fill="#0c0cf0"/>
<rect x="684.60" y="645.30" width="3.20" height="3.20" fill="#0c0cf0" />
<path d="M672.9 402.0 V417.5" stroke="#e6ad1a" stroke-width="1.6" fill="none"/>
<path d="M672.9 398.7 L676.1 403.9 H669.7 Z" fill="#e6ad1a"/>
<path d="M735.7 449.3 V468.0" stroke="#0c0cf0" stroke-width="1.7" fill="none"/>
<path d="M735.7 445.3 L738.0 450.9 H733.4 Z" fill="#0c0cf0"/>
<rect x="734.10" y="465.70" width="3.20" height="3.20" fill="#0c0cf0" />
<path d="M735.7 540.7 V561.0" stroke="#0c0cf0" stroke-width="1.7" fill="none"/>
<path d="M735.7 536.7 L738.0 542.3 H733.4 Z" fill="#0c0cf0"/>
<rect x="734.10" y="558.70" width="3.20" height="3.20" fill="#0c0cf0" />
<path d="M735.7 629.0 V647.6" stroke="#0c0cf0" stroke-width="1.7" fill="none"/>
<path d="M735.7 625.0 L738.0 630.6 H733.4 Z" fill="#0c0cf0"/>
<rect x="734.10" y="645.30" width="3.20" height="3.20" fill="#0c0cf0" />
<path d="M759.3 449.3 V468.0" stroke="#0c0cf0" stroke-width="1.7" fill="none"/>
<path d="M759.3 445.3 L761.6 450.9 H757.0 Z" fill="#0c0cf0"/>
<rect x="757.70" y="465.70" width="3.20" height="3.20" fill="#0c0cf0" />
<path d="M759.3 540.7 V561.0" stroke="#0c0cf0" stroke-width="1.7" fill="none"/>
<path d="M759.3 536.7 L761.6 542.3 H757.0 Z" fill="#0c0cf0"/>
<rect x="757.70" y="558.70" width="3.20" height="3.20" fill="#0c0cf0" />
<path d="M759.3 629.0 V647.6" stroke="#0c0cf0" stroke-width="1.7" fill="none"/>
<path d="M759.3 625.0 L761.6 630.6 H757.0 Z" fill="#0c0cf0"/>
<rect x="757.70" y="645.30" width="3.20" height="3.20" fill="#0c0cf0" />
<path d="M746.0 402.0 V417.5" stroke="#e6ad1a" stroke-width="1.6" fill="none"/>
<path d="M746.0 398.7 L749.2 403.9 H742.8 Z" fill="#e6ad1a"/>
<path d="M808.8 449.3 V468.0" stroke="#0c0cf0" stroke-width="1.7" fill="none"/>
<path d="M808.8 445.3 L811.1 450.9 H806.5 Z" fill="#0c0cf0"/>
<rect x="807.20" y="465.70" width="3.20" height="3.20" fill="#0c0cf0" />
<path d="M808.8 540.7 V561.0" stroke="#0c0cf0" stroke-width="1.7" fill="none"/>
<path d="M808.8 536.7 L811.1 542.3 H806.5 Z" fill="#0c0cf0"/>
<rect x="807.20" y="558.70" width="3.20" height="3.20" fill="#0c0cf0" />
<path d="M808.8 629.0 V647.6" stroke="#0c0cf0" stroke-width="1.7" fill="none"/>
<path d="M808.8 625.0 L811.1 630.6 H806.5 Z" fill="#0c0cf0"/>
<rect x="807.20" y="645.30" width="3.20" height="3.20" fill="#0c0cf0" />
<path d="M832.4 449.3 V468.0" stroke="#0c0cf0" stroke-width="1.7" fill="none"/>
<path d="M832.4 445.3 L834.7 450.9 H830.1 Z" fill="#0c0cf0"/>
<rect x="830.80" y="465.70" width="3.20" height="3.20" fill="#0c0cf0" />
<path d="M832.4 540.7 V561.0" stroke="#0c0cf0" stroke-width="1.7" fill="none"/>
<path d="M832.4 536.7 L834.7 542.3 H830.1 Z" fill="#0c0cf0"/>
<rect x="830.80" y="558.70" width="3.20" height="3.20" fill="#0c0cf0" />
<path d="M832.4 629.0 V647.6" stroke="#0c0cf0" stroke-width="1.7" fill="none"/>
<path d="M832.4 625.0 L834.7 630.6 H830.1 Z" fill="#0c0cf0"/>
<rect x="830.80" y="645.30" width="3.20" height="3.20" fill="#0c0cf0" />
<path d="M819.1 402.0 V417.5" stroke="#e6ad1a" stroke-width="1.6" fill="none"/>
<path d="M819.1 398.7 L822.3 403.9 H815.9 Z" fill="#e6ad1a"/>
<path d="M881.7 449.3 V468.0" stroke="#0c0cf0" stroke-width="1.7" fill="none"/>
<path d="M881.7 445.3 L884.0 450.9 H879.4 Z" fill="#0c0cf0"/>
<rect x="880.10" y="465.70" width="3.20" height="3.20" fill="#0c0cf0" />
<path d="M881.7 540.7 V561.0" stroke="#0c0cf0" stroke-width="1.7" fill="none"/>
<path d="M881.7 536.7 L884.0 542.3 H879.4 Z" fill="#0c0cf0"/>
<rect x="880.10" y="558.70" width="3.20" height="3.20" fill="#0c0cf0" />
<path d="M881.7 629.0 V647.6" stroke="#0c0cf0" stroke-width="1.7" fill="none"/>
<path d="M881.7 625.0 L884.0 630.6 H879.4 Z" fill="#0c0cf0"/>
<rect x="880.10" y="645.30" width="3.20" height="3.20" fill="#0c0cf0" />
<path d="M905.3 449.3 V468.0" stroke="#0c0cf0" stroke-width="1.7" fill="none"/>
<path d="M905.3 445.3 L907.6 450.9 H903.0 Z" fill="#0c0cf0"/>
<rect x="903.70" y="465.70" width="3.20" height="3.20" fill="#0c0cf0" />
<path d="M905.3 540.7 V561.0" stroke="#0c0cf0" stroke-width="1.7" fill="none"/>
<path d="M905.3 536.7 L907.6 542.3 H903.0 Z" fill="#0c0cf0"/>
<rect x="903.70" y="558.70" width="3.20" height="3.20" fill="#0c0cf0" />
<path d="M905.3 629.0 V647.6" stroke="#0c0cf0" stroke-width="1.7" fill="none"/>
<path d="M905.3 625.0 L907.6 630.6 H903.0 Z" fill="#0c0cf0"/>
<rect x="903.70" y="645.30" width="3.20" height="3.20" fill="#0c0cf0" />
<path d="M892.0 402.0 V417.5" stroke="#e6ad1a" stroke-width="1.6" fill="none"/>
<path d="M892.0 398.7 L895.2 403.9 H888.8 Z" fill="#e6ad1a"/>
<path d="M947.4 449.3 V468.0" stroke="#0c0cf0" stroke-width="1.7" fill="none"/>
<path d="M947.4 445.3 L949.7 450.9 H945.1 Z" fill="#0c0cf0"/>
<rect x="945.80" y="465.70" width="3.20" height="3.20" fill="#0c0cf0" />
<path d="M947.4 540.7 V561.0" stroke="#0c0cf0" stroke-width="1.7" fill="none"/>
<path d="M947.4 536.7 L949.7 542.3 H945.1 Z" fill="#0c0cf0"/>
<rect x="945.80" y="558.70" width="3.20" height="3.20" fill="#0c0cf0" />
<path d="M947.4 629.0 V647.6" stroke="#0c0cf0" stroke-width="1.7" fill="none"/>
<path d="M947.4 625.0 L949.7 630.6 H945.1 Z" fill="#0c0cf0"/>
<rect x="945.80" y="645.30" width="3.20" height="3.20" fill="#0c0cf0" />
<path d="M971.0 449.3 V468.0" stroke="#0c0cf0" stroke-width="1.7" fill="none"/>
<path d="M971.0 445.3 L973.3 450.9 H968.7 Z" fill="#0c0cf0"/>
<rect x="969.40" y="465.70" width="3.20" height="3.20" fill="#0c0cf0" />
<path d="M971.0 540.7 V561.0" stroke="#0c0cf0" stroke-width="1.7" fill="none"/>
<path d="M971.0 536.7 L973.3 542.3 H968.7 Z" fill="#0c0cf0"/>
<rect x="969.40" y="558.70" width="3.20" height="3.20" fill="#0c0cf0" />
<path d="M971.0 629.0 V647.6" stroke="#0c0cf0" stroke-width="1.7" fill="none"/>
<path d="M971.0 625.0 L973.3 630.6 H968.7 Z" fill="#0c0cf0"/>
<rect x="969.40" y="645.30" width="3.20" height="3.20" fill="#0c0cf0" />
<path d="M957.7 402.0 V417.5" stroke="#e6ad1a" stroke-width="1.6" fill="none"/>
<path d="M957.7 398.7 L960.9 403.9 H954.5 Z" fill="#e6ad1a"/>
<path d="M279.0 456.8 V465.2 M276.7 459.2 L279.0 456.5 L281.3 459.2" stroke="#f21a14" stroke-width="1.3" fill="none"/>
<path d="M279.0 637.9 V645.6 M276.7 640.3 L279.0 637.6 L281.3 640.3" stroke="#f21a14" stroke-width="1.3" fill="none"/>
<path d="M291.6 456.8 V465.2 M289.3 459.2 L291.6 456.5 L293.9 459.2" stroke="#f21a14" stroke-width="1.3" fill="none"/>
<path d="M291.6 637.9 V645.6 M289.3 640.3 L291.6 637.6 L293.9 640.3" stroke="#f21a14" stroke-width="1.3" fill="none"/>
<rect x="275.10" y="466.60" width="20.40" height="2.20" fill="#f01410" />
<rect x="275.10" y="649.40" width="20.40" height="2.20" fill="#f01410" />
<path d="M286.1 423.5 V438.5" stroke="#e6ad1a" stroke-width="1.6" fill="none"/>
<path d="M286.1 420.2 L289.3 425.4 H282.9 Z" fill="#e6ad1a"/>
<path d="M342.9 456.8 V465.2 M340.6 459.2 L342.9 456.5 L345.2 459.2" stroke="#f21a14" stroke-width="1.3" fill="none"/>
<path d="M342.9 637.9 V645.6 M340.6 640.3 L342.9 637.6 L345.2 640.3" stroke="#f21a14" stroke-width="1.3" fill="none"/>
<path d="M355.5 456.8 V465.2 M353.2 459.2 L355.5 456.5 L357.8 459.2" stroke="#f21a14" stroke-width="1.3" fill="none"/>
<path d="M355.5 637.9 V645.6 M353.2 640.3 L355.5 637.6 L357.8 640.3" stroke="#f21a14" stroke-width="1.3" fill="none"/>
<rect x="339.00" y="466.60" width="20.40" height="2.20" fill="#f01410" />
<rect x="339.00" y="649.40" width="20.40" height="2.20" fill="#f01410" />
<path d="M350.0 423.5 V438.5" stroke="#e6ad1a" stroke-width="1.6" fill="none"/>
<path d="M350.0 420.2 L353.2 425.4 H346.8 Z" fill="#e6ad1a"/>
<path d="M412.2 456.8 V465.2 M409.9 459.2 L412.2 456.5 L414.5 459.2" stroke="#f21a14" stroke-width="1.3" fill="none"/>
<path d="M412.2 637.9 V645.6 M409.9 640.3 L412.2 637.6 L414.5 640.3" stroke="#f21a14" stroke-width="1.3" fill="none"/>
<path d="M424.8 456.8 V465.2 M422.5 459.2 L424.8 456.5 L427.1 459.2" stroke="#f21a14" stroke-width="1.3" fill="none"/>
<path d="M424.8 637.9 V645.6 M422.5 640.3 L424.8 637.6 L427.1 640.3" stroke="#f21a14" stroke-width="1.3" fill="none"/>
<rect x="408.30" y="466.60" width="20.40" height="2.20" fill="#f01410" />
<rect x="408.30" y="649.40" width="20.40" height="2.20" fill="#f01410" />
<path d="M419.3 423.5 V438.5" stroke="#e6ad1a" stroke-width="1.6" fill="none"/>
<path d="M419.3 420.2 L422.5 425.4 H416.1 Z" fill="#e6ad1a"/>
<path d="M485.3 456.8 V465.2 M483.0 459.2 L485.3 456.5 L487.6 459.2" stroke="#f21a14" stroke-width="1.3" fill="none"/>
<path d="M485.3 637.9 V645.6 M483.0 640.3 L485.3 637.6 L487.6 640.3" stroke="#f21a14" stroke-width="1.3" fill="none"/>
<path d="M497.9 456.8 V465.2 M495.6 459.2 L497.9 456.5 L500.2 459.2" stroke="#f21a14" stroke-width="1.3" fill="none"/>
<path d="M497.9 637.9 V645.6 M495.6 640.3 L497.9 637.6 L500.2 640.3" stroke="#f21a14" stroke-width="1.3" fill="none"/>
<rect x="481.40" y="466.60" width="20.40" height="2.20" fill="#f01410" />
<rect x="481.40" y="649.40" width="20.40" height="2.20" fill="#f01410" />
<path d="M492.4 423.5 V438.5" stroke="#e6ad1a" stroke-width="1.6" fill="none"/>
<path d="M492.4 420.2 L495.6 425.4 H489.2 Z" fill="#e6ad1a"/>
<path d="M558.4 456.8 V465.2 M556.1 459.2 L558.4 456.5 L560.7 459.2" stroke="#f21a14" stroke-width="1.3" fill="none"/>
<path d="M558.4 637.9 V645.6 M556.1 640.3 L558.4 637.6 L560.7 640.3" stroke="#f21a14" stroke-width="1.3" fill="none"/>
<path d="M571.0 456.8 V465.2 M568.7 459.2 L571.0 456.5 L573.3 459.2" stroke="#f21a14" stroke-width="1.3" fill="none"/>
<path d="M571.0 637.9 V645.6 M568.7 640.3 L571.0 637.6 L573.3 640.3" stroke="#f21a14" stroke-width="1.3" fill="none"/>
<rect x="554.50" y="466.60" width="20.40" height="2.20" fill="#f01410" />
<rect x="554.50" y="649.40" width="20.40" height="2.20" fill="#f01410" />
<path d="M565.5 423.5 V438.5" stroke="#e6ad1a" stroke-width="1.6" fill="none"/>
<path d="M565.5 420.2 L568.7 425.4 H562.3 Z" fill="#e6ad1a"/>
<path d="M631.5 456.8 V465.2 M629.2 459.2 L631.5 456.5 L633.8 459.2" stroke="#f21a14" stroke-width="1.3" fill="none"/>
<path d="M631.5 637.9 V645.6 M629.2 640.3 L631.5 637.6 L633.8 640.3" stroke="#f21a14" stroke-width="1.3" fill="none"/>
<path d="M644.1 456.8 V465.2 M641.8 459.2 L644.1 456.5 L646.4 459.2" stroke="#f21a14" stroke-width="1.3" fill="none"/>
<path d="M644.1 637.9 V645.6 M641.8 640.3 L644.1 637.6 L646.4 640.3" stroke="#f21a14" stroke-width="1.3" fill="none"/>
<rect x="627.60" y="466.60" width="20.40" height="2.20" fill="#f01410" />
<rect x="627.60" y="649.40" width="20.40" height="2.20" fill="#f01410" />
<path d="M638.6 423.5 V438.5" stroke="#e6ad1a" stroke-width="1.6" fill="none"/>
<path d="M638.6 420.2 L641.8 425.4 H635.4 Z" fill="#e6ad1a"/>
<path d="M704.6 456.8 V465.2 M702.3 459.2 L704.6 456.5 L706.9 459.2" stroke="#f21a14" stroke-width="1.3" fill="none"/>
<path d="M704.6 637.9 V645.6 M702.3 640.3 L704.6 637.6 L706.9 640.3" stroke="#f21a14" stroke-width="1.3" fill="none"/>
<path d="M717.2 456.8 V465.2 M714.9 459.2 L717.2 456.5 L719.5 459.2" stroke="#f21a14" stroke-width="1.3" fill="none"/>
<path d="M717.2 637.9 V645.6 M714.9 640.3 L717.2 637.6 L719.5 640.3" stroke="#f21a14" stroke-width="1.3" fill="none"/>
<rect x="700.70" y="466.60" width="20.40" height="2.20" fill="#f01410" />
<rect x="700.70" y="649.40" width="20.40" height="2.20" fill="#f01410" />
<path d="M711.7 423.5 V438.5" stroke="#e6ad1a" stroke-width="1.6" fill="none"/>
<path d="M711.7 420.2 L714.9 425.4 H708.5 Z" fill="#e6ad1a"/>
<path d="M777.7 456.8 V465.2 M775.4 459.2 L777.7 456.5 L780.0 459.2" stroke="#f21a14" stroke-width="1.3" fill="none"/>
<path d="M777.7 637.9 V645.6 M775.4 640.3 L777.7 637.6 L780.0 640.3" stroke="#f21a14" stroke-width="1.3" fill="none"/>
<path d="M790.3 456.8 V465.2 M788.0 459.2 L790.3 456.5 L792.6 459.2" stroke="#f21a14" stroke-width="1.3" fill="none"/>
<path d="M790.3 637.9 V645.6 M788.0 640.3 L790.3 637.6 L792.6 640.3" stroke="#f21a14" stroke-width="1.3" fill="none"/>
<rect x="773.80" y="466.60" width="20.40" height="2.20" fill="#f01410" />
<rect x="773.80" y="649.40" width="20.40" height="2.20" fill="#f01410" />
<path d="M784.8 423.5 V438.5" stroke="#e6ad1a" stroke-width="1.6" fill="none"/>
<path d="M784.8 420.2 L788.0 425.4 H781.6 Z" fill="#e6ad1a"/>
<path d="M850.7 456.8 V465.2 M848.4 459.2 L850.7 456.5 L853.0 459.2" stroke="#f21a14" stroke-width="1.3" fill="none"/>
<path d="M850.7 637.9 V645.6 M848.4 640.3 L850.7 637.6 L853.0 640.3" stroke="#f21a14" stroke-width="1.3" fill="none"/>
<path d="M863.3 456.8 V465.2 M861.0 459.2 L863.3 456.5 L865.6 459.2" stroke="#f21a14" stroke-width="1.3" fill="none"/>
<path d="M863.3 637.9 V645.6 M861.0 640.3 L863.3 637.6 L865.6 640.3" stroke="#f21a14" stroke-width="1.3" fill="none"/>
<rect x="846.80" y="466.60" width="20.40" height="2.20" fill="#f01410" />
<rect x="846.80" y="649.40" width="20.40" height="2.20" fill="#f01410" />
<path d="M857.8 423.5 V438.5" stroke="#e6ad1a" stroke-width="1.6" fill="none"/>
<path d="M857.8 420.2 L861.0 425.4 H854.6 Z" fill="#e6ad1a"/>
<path d="M919.7 456.8 V465.2 M917.4 459.2 L919.7 456.5 L922.0 459.2" stroke="#f21a14" stroke-width="1.3" fill="none"/>
<path d="M919.7 637.9 V645.6 M917.4 640.3 L919.7 637.6 L922.0 640.3" stroke="#f21a14" stroke-width="1.3" fill="none"/>
<path d="M932.3 456.8 V465.2 M930.0 459.2 L932.3 456.5 L934.6 459.2" stroke="#f21a14" stroke-width="1.3" fill="none"/>
<path d="M932.3 637.9 V645.6 M930.0 640.3 L932.3 637.6 L934.6 640.3" stroke="#f21a14" stroke-width="1.3" fill="none"/>
<rect x="915.80" y="466.60" width="20.40" height="2.20" fill="#f01410" />
<rect x="915.80" y="649.40" width="20.40" height="2.20" fill="#f01410" />
<path d="M926.8 423.5 V438.5" stroke="#e6ad1a" stroke-width="1.6" fill="none"/>
<path d="M926.8 420.2 L930.0 425.4 H923.6 Z" fill="#e6ad1a"/>
<path d="M983.0 456.8 V465.2 M980.7 459.2 L983.0 456.5 L985.3 459.2" stroke="#f21a14" stroke-width="1.3" fill="none"/>
<path d="M983.0 637.9 V645.6 M980.7 640.3 L983.0 637.6 L985.3 640.3" stroke="#f21a14" stroke-width="1.3" fill="none"/>
<path d="M995.6 456.8 V465.2 M993.3 459.2 L995.6 456.5 L997.9 459.2" stroke="#f21a14" stroke-width="1.3" fill="none"/>
<path d="M995.6 637.9 V645.6 M993.3 640.3 L995.6 637.6 L997.9 640.3" stroke="#f21a14" stroke-width="1.3" fill="none"/>
<rect x="979.10" y="466.60" width="20.40" height="2.20" fill="#f01410" />
<rect x="979.10" y="649.40" width="20.40" height="2.20" fill="#f01410" />
<path d="M990.1 423.5 V438.5" stroke="#e6ad1a" stroke-width="1.6" fill="none"/>
<path d="M990.1 420.2 L993.3 425.4 H986.9 Z" fill="#e6ad1a"/>
</g>
<g id="right-building" stroke="#d3dde5" stroke-width="1.05" fill="none" opacity="0.92">
<path d="M997.1 313 L997.1 294.8 L1103 294.8" opacity="0.45"/>
<path d="M1008.6 399.2 V328.3 H1022.6 V399.2 M1008.6 416.4 V486.7 M1022.6 416.4 V486.7 M1008.6 499.3 V566.4 M1022.6 499.3 V566.4 M1008.6 576 V642.1"/>
<path d="M1022.6 337.1 L1103 337.1"/>
<path d="M1002.4 372.9 H1022.6 M1003.4 375.4 H1022.6 M1005.4 378 H1022.6 M1002.4 372.9 L1003.4 375.4 L1005.4 378"/>
<path d="M1029.3 392.4 A15 15 0 0 1 1059.3 392.4 M1033.3 392.4 A11 11 0 0 1 1055.3 392.4"/>
<path d="M1058.3 392.4 A15 15 0 0 1 1088.3 392.4 M1062.3 392.4 A11 11 0 0 1 1084.3 392.4"/>
<path d="M1029.3 392.4 L1088.3 392.4"/>
<path d="M998.4 399.2 H1103 M999 402.4 H1103 M1001.6 410.4 H1103 M998.4 399.2 L999 402.4 Q999.4 408.5 1001.6 410.4 M1003 410.4 L1005 416.4 H1024.6 L1026 410.4 M1091.2 410.4 L1093 416.4 H1103" stroke-width="1.3"/>
<path d="M1094 416.2 L1094 655.5"/>
<path d="M1103 383.6 L1092.9 398.3"/>
<path d="M1031 469.3 V424 Q1043.25 418.5 1055.5 424 V469.3 Z"/>
<path d="M1033.6 467 V428 Q1043.25 424.5 1052.9 428 V467 Z"/>
<path d="M1059.8 469.3 V424 Q1072.3 418.5 1084.8 424 V469.3 Z"/>
<path d="M1062.3999999999999 467 V428 Q1072.3 424.5 1082.2 428 V467 Z"/>
<path d="M1008.6 481.4 H1103 M1000.7 486.7 H1103 M1002 494 H1103 M1000.7 486.7 L1002 494 M1004 494 L1006 499.3 H1024 L1026 494 M1091.5 494 L1093 499.3 H1103"/>
<rect x="1036" y="511.9" width="20.2" height="41.4"/>
<rect x="1036" y="556.4" width="20.2" height="7.9"/>
<path d="M1041.6 504 H1050.6 L1049.1 511.9 H1043.1 Z M1044.6 504 L1045.1 511.9 M1047.6 504 L1047.1 511.9"/>
<rect x="1065" y="511.9" width="20.7" height="41.4"/>
<rect x="1065" y="556.4" width="20.7" height="7.9"/>
<path d="M1070.85 504 H1079.85 L1078.35 511.9 H1072.35 Z M1073.85 504 L1074.35 511.9 M1076.85 504 L1076.35 511.9"/>
<path d="M1004.8 566.4 H1103 M1003 570.7 H1103 M1004.8 576 H1103 M1004.8 566.4 L1003 570.7 L1004.8 576"/>
<path d="M1022.6 576 L1022.6 642"/>
<rect x="1028.1" y="590.5" width="60.0" height="46.2"/>
<path d="M1028.1 593.8 L1088.1 593.8"/>
<path d="M1047.3 593.8 L1047.3 636.7"/>
<path d="M1048.6 593.8 L1048.6 636.7"/>
<path d="M1067.5 593.8 L1067.5 636.7"/>
<path d="M1068.8 593.8 L1068.8 636.7"/>
<path d="M1006 642.1 H1103 M1006 642.1 V649.3 H1022.6 V642.1 M1000 650.2 L1103 656.4"/>
</g>
<g id="callouts">
<circle cx="935" cy="111" r="17.8" fill="none" stroke="#ffffff" stroke-width="2.6"/>
<text x="935" y="117.5" font-size="16.5" class="dj" font-weight="700" fill="#ffffff" text-anchor="middle" textLength="12.6" lengthAdjust="spacingAndGlyphs">1</text>
<text x="969.6" y="118" font-size="12.4" class="djl" fill="#dde3e8" stroke="#dde3e8" stroke-width="0.3" textLength="78.4" lengthAdjust="spacingAndGlyphs">Подсветка</text>
<text x="969.6" y="135" font-size="12.4" class="djl" fill="#dde3e8" stroke="#dde3e8" stroke-width="0.3" textLength="125.4" lengthAdjust="spacingAndGlyphs">верхнего обьема</text>
<circle cx="207.5" cy="253" r="17.8" fill="none" stroke="#ffffff" stroke-width="2.6"/>
<text x="207.5" y="259.5" font-size="16.5" class="dj" font-weight="700" fill="#ffffff" text-anchor="middle" textLength="12.6" lengthAdjust="spacingAndGlyphs">2</text>
<text x="49.5" y="281.4" font-size="12.4" class="djl" fill="#dde3e8" stroke="#dde3e8" stroke-width="0.3" textLength="133" lengthAdjust="spacingAndGlyphs">Подсветка крыши</text>
<circle cx="168.2" cy="372.1" r="17.8" fill="none" stroke="#ffffff" stroke-width="2.6"/>
<text x="168.2" y="378.6" font-size="16.5" class="dj" font-weight="700" fill="#ffffff" text-anchor="middle" textLength="12.6" lengthAdjust="spacingAndGlyphs">3</text>
<text x="49.5" y="390.2" font-size="12.4" class="djl" fill="#dde3e8" stroke="#dde3e8" stroke-width="0.3" textLength="78.6" lengthAdjust="spacingAndGlyphs">Подсветка</text>
<text x="49.5" y="407.4" font-size="12.4" class="djl" fill="#dde3e8" stroke="#dde3e8" stroke-width="0.3" textLength="111.5" lengthAdjust="spacingAndGlyphs">окон на крыше</text>
<circle cx="994.3" cy="250" r="17.8" fill="none" stroke="#ffffff" stroke-width="2.6"/>
<text x="994.3" y="256.5" font-size="16.5" class="dj" font-weight="700" fill="#ffffff" text-anchor="middle" textLength="12.6" lengthAdjust="spacingAndGlyphs">4</text>
<text x="1018" y="251.6" font-size="12.4" class="djl" fill="#dde3e8" stroke="#dde3e8" stroke-width="0.3" textLength="78" lengthAdjust="spacingAndGlyphs">Подсветка</text>
<text x="1018" y="268.6" font-size="12.4" class="djl" fill="#dde3e8" stroke="#dde3e8" stroke-width="0.3" textLength="108" lengthAdjust="spacingAndGlyphs">между окнами</text>
<circle cx="134.6" cy="723.5" r="17.8" fill="none" stroke="#ffffff" stroke-width="2.6"/>
<text x="134.6" y="730.0" font-size="16.5" class="dj" font-weight="700" fill="#ffffff" text-anchor="middle" textLength="12.6" lengthAdjust="spacingAndGlyphs">5</text>
<text x="162.5" y="728" font-size="12.4" class="djl" fill="#dde3e8" stroke="#dde3e8" stroke-width="0.3" textLength="87.5" lengthAdjust="spacingAndGlyphs">Подсветка_</text>
<text x="162.5" y="745" font-size="12.4" class="djl" fill="#dde3e8" stroke="#dde3e8" stroke-width="0.3" textLength="86.3" lengthAdjust="spacingAndGlyphs">простенков</text>
<circle cx="421" cy="722.5" r="17.8" fill="none" stroke="#ffffff" stroke-width="2.6"/>
<text x="421" y="729.0" font-size="16.5" class="dj" font-weight="700" fill="#ffffff" text-anchor="middle" textLength="12.6" lengthAdjust="spacingAndGlyphs">6</text>
<text x="460.5" y="726.3" font-size="12.4" class="djl" fill="#dde3e8" stroke="#dde3e8" stroke-width="0.3" textLength="78.3" lengthAdjust="spacingAndGlyphs">Подсветка</text>
<text x="460.5" y="743" font-size="12.4" class="djl" fill="#dde3e8" stroke="#dde3e8" stroke-width="0.3" textLength="85.8" lengthAdjust="spacingAndGlyphs">над окнами</text>
<circle cx="848.8" cy="723" r="17.8" fill="none" stroke="#ffffff" stroke-width="2.6"/>
<text x="848.8" y="729.5" font-size="16.5" class="dj" font-weight="700" fill="#ffffff" text-anchor="middle" textLength="12.6" lengthAdjust="spacingAndGlyphs">7</text>
<text x="874.3" y="727.5" font-size="12.4" class="djl" fill="#dde3e8" stroke="#dde3e8" stroke-width="0.3" textLength="77.7" lengthAdjust="spacingAndGlyphs">Подсветка</text>
<text x="874.3" y="744.3" font-size="12.4" class="djl" fill="#dde3e8" stroke="#dde3e8" stroke-width="0.3" textLength="97" lengthAdjust="spacingAndGlyphs">оконных ниш</text>
</g>
<g id="pointers" stroke="#ffffff" fill="none" stroke-linecap="round" stroke-linejoin="round">
<path d="M949 140 L941.4 154.3 M935.7 163.4 L925.2 177.1 M918.6 187 L907.7 198.5" stroke-width="1.0" opacity="0.8"/>
<path d="M899.5 207.6 C880 223 862 242 849.8 262.8" stroke-width="1.7"/>
<path d="M851.9 249.5 L849.6 263 L864.3 256.2" stroke-width="2.3"/>
<path d="M197.9 293.6 L209.3 305 M219.3 312.9 L230 319.3 M240 326.4 L255.7 337.9" stroke-width="1.0" opacity="0.8"/>
<path d="M264.3 345 C277 358 286 375 294.4 393.4" stroke-width="1.7"/>
<path d="M286.4 389.3 L294.6 394 L299.3 381.4" stroke-width="2.3"/>
<path d="M139.7 413 L148.7 423.5" stroke-width="1.0" opacity="0.8"/>
<path d="M158.2 431.5 L167.2 436.7 M178.5 442 L191.2 445.4 M203.2 448 L222 451" stroke-width="1.4"/>
<path d="M234 452.2 C255 455 277 449 318.5 440.3" stroke-width="1.7"/>
<path d="M306 434.2 L318.7 440.2 L313.5 449.5" stroke-width="2.3"/>
<path d="M1072.1 288.3 L1067.4 307.4 M1065 319.3 L1062.1 336 M1060.2 346.7 L1056.7 361 M1053.1 371.7 L1047.1 387.1" stroke-width="1.0" opacity="0.8"/>
<path d="M1041.2 397.9 L1001.5 455.6" stroke-width="1.7"/>
<path d="M1005 448 L1001.3 455.8 L1014.2 454.2" stroke-width="2.3"/>
<path d="M286.7 628.6 C284 648 280 668 277 682.5" stroke-width="1.7"/>
<path d="M275 696 L272.5 706 M265.5 718 L261 722" stroke-width="1.45"/>
<path d="M274.2 642.5 L286.7 628.3" stroke-width="2.2"/>
<path d="M286.7 628.3 L297.5 641.7" stroke-width="1.6" stroke="#1a2530"/>
<path d="M429 643.8 C428.5 615 433 592 454 579.3" stroke-width="1.7"/>
<path d="M453.6 591 L454.3 579 L446 580.5" stroke-width="2.3"/>
<path d="M428.8 656.3 L432 672.5 M435.5 684.5 L441.3 693.8 M448.8 702.5 L455 711.3" stroke-width="1.45"/>
<path d="M748 550 C751 585 760 612 771.8 629.4 M777.5 639.6 L783.1 649.8" stroke-width="1.7"/>
<path d="M743.6 558.2 L748 549.9 L754.4 555.3" stroke-width="2.3"/>
<path d="M789.2 661 L796.7 670.6 M805.7 680.3 L814.7 689.3 M822.7 697.2 L827.6 702.9" stroke-width="1.45"/>
<path d="M747.2 646.6 C757 666 768 680 781.5 689.3" stroke-width="1.7"/>
<path d="M749.2 655.4 L747 646.4 L756 647.5" stroke-width="2.3"/>
<path d="M791 697.7 L802.3 704 M812.5 709.7 L821.5 711.9" stroke-width="1.45"/>
</g>
</svg></body></html>
